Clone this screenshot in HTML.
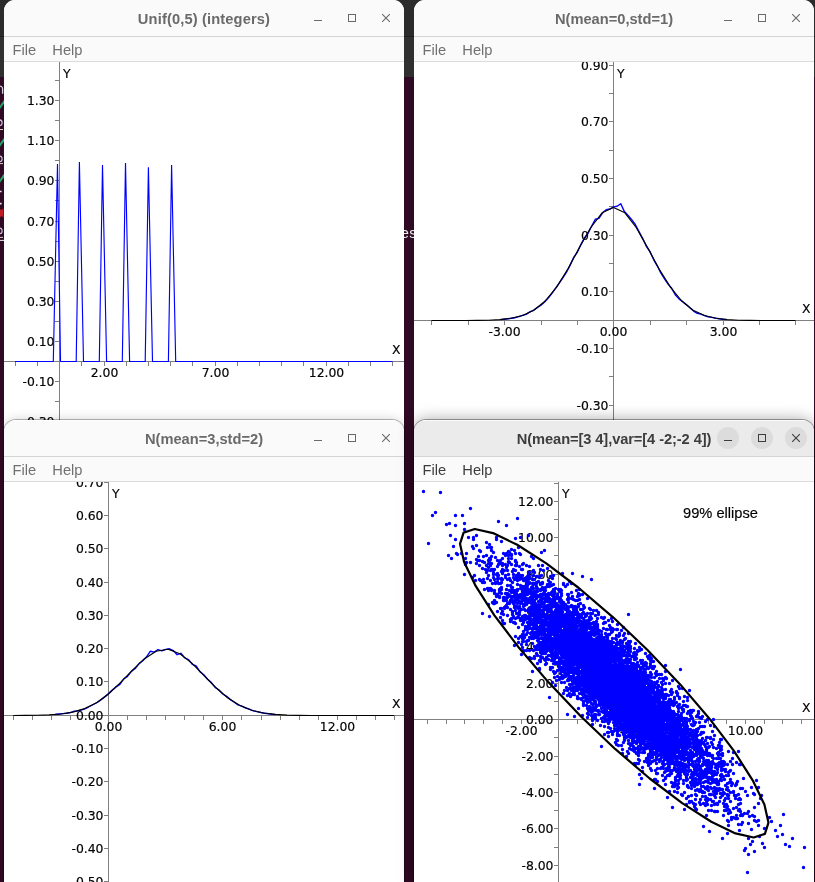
<!DOCTYPE html>
<html lang="en"><head><meta charset="utf-8"><title>Distributions</title>
<style>
html,body{margin:0;padding:0}
body{width:815px;height:882px;overflow:hidden;background:#300a24;position:relative;font-family:"Liberation Sans", sans-serif}
.bgtop{position:absolute;left:0;top:0;width:815px;height:77px;background:#303030}
.bgtop i{position:absolute;left:0;top:0;width:100%;height:36px;background:#2b2b2b;border-bottom:1px solid #1e1e1e}
.win{position:absolute;width:400px;background:#fff;border-radius:11px 11px 0 0;overflow:hidden}
.win.low,.win.act{border-radius:12px 12px 0 0}
.win.low{box-shadow:0 0 0 1px rgba(0,0,0,.27),0 0 12px rgba(0,0,0,.19)}
.win.act{box-shadow:0 0 0 1px rgba(0,0,0,.34),0 0 16px rgba(0,0,0,.36)}
.tb{display:block;border-bottom:1px solid #d4d4d4}
.mb{position:relative;height:24px;background:#fafafa;border-bottom:1px solid #dcdcdc;font-size:14.67px;line-height:24px}
.mb span{position:absolute;top:1px}
.pl{display:block;background:#fff}
.frag{position:absolute;left:0;top:0;display:block}
.es{position:absolute;left:400.6px;top:225.2px;width:20px;height:18px;font:14.5px/18px "Liberation Mono",monospace;color:#eee;letter-spacing:-.7px}
svg text{white-space:pre}
.pl text{stroke:#000;stroke-width:.16px}
</style></head><body>
<div class="bgtop"><i></i></div>
<svg class="frag" width="4" height="260" viewBox="0 0 4 260">
<g fill="none">
<path d="M-2 86.3q4.6-.9 4.6 2.6v4.8" stroke="#cfcfe4" stroke-width="1.3"/>
<path d="M-1 108.6L4.5 101" stroke="#26a269" stroke-width="2.1"/>
<circle cx="-.8" cy="122.8" r="2.9" stroke="#c4c4dc" stroke-width="1.2"/>
<path d="M0 129.5h3" stroke="#d8d0c8" stroke-width="1"/>
<path d="M-1 146.4L4.5 138.8" stroke="#26a269" stroke-width="2.1"/>
<circle cx="-.8" cy="158.9" r="2.9" stroke="#c4c4dc" stroke-width="1.2"/>
<path d="M0 163.6h3" stroke="#d8d0c8" stroke-width="1"/>
<path d="M-1 182.3L4.5 174.7" stroke="#26a269" stroke-width="2.1"/>
<path d="M0 191.5h1.6M0 203.6h1.6" stroke="#e6e6e6" stroke-width="1.6"/>
<path d="M-1 208.5l2.5 1.5l2-1.8v9.5l-2-1.6l-2.5 1.8z" fill="#c01c28" stroke="none"/>
<circle cx="-.8" cy="230.9" r="2.9" stroke="#c4c4dc" stroke-width="1.2"/>
<path d="M0 237.4h3" stroke="#d8d0c8" stroke-width="1"/>
<path d="M0 240.4h4" stroke="#e8e8e8" stroke-width="1"/>
</g></svg>
<div class="es">es</div>
<div class="win " style="left:4px;top:0px;height:470px">
<svg class="tb" width="400" height="36" style="background:#fafafa;box-shadow:inset 0 1px 0 rgba(255,255,255,0)" font-family='"Liberation Sans", sans-serif' font-size="14.67"><text x="200" y="24" text-anchor="middle" font-weight="bold" fill="#6a6a6a" letter-spacing="0.14">Unif(0,5) (integers)</text><g transform="translate(314,18)" fill="#6a6a6a" color="#6a6a6a" shape-rendering="crispEdges"><rect x="-4" y="2" width="8" height="1"/></g><g transform="translate(348,18)" fill="#6a6a6a" color="#6a6a6a" shape-rendering="crispEdges"><path d="M-4 -4h8v8h-8z M-3 -3v6h6v-6z" fill-rule="evenodd"/></g><g transform="translate(382,18)" fill="#6a6a6a" color="#6a6a6a" shape-rendering="auto"><path d="M-3.8 -3.8L3.8 3.8M3.8 -3.8L-3.8 3.8" fill="none" stroke-width="1.1" stroke="currentColor"/></g></svg>
<div class="mb" style="color:#707070"><span style="left:8.5px">File</span><span style="left:48.3px">Help</span></div>
<svg class="pl" width="400" height="408" font-family='"DejaVu Sans", "Liberation Sans", sans-serif' font-size="12.4" stroke="#000" stroke-width="0"><rect x="0" y="299" width="400" height="1" fill="#808080"/><rect x="55" y="0" width="1" height="400" fill="#808080"/><rect x="11" y="300" width="1" height="4" fill="#808080"/><rect x="33" y="300" width="1" height="4" fill="#808080"/><rect x="77" y="300" width="1" height="4" fill="#808080"/><rect x="100" y="300" width="1" height="4" fill="#808080"/><rect x="122" y="300" width="1" height="4" fill="#808080"/><rect x="144" y="300" width="1" height="4" fill="#808080"/><rect x="166" y="300" width="1" height="4" fill="#808080"/><rect x="188" y="300" width="1" height="4" fill="#808080"/><rect x="211" y="300" width="1" height="4" fill="#808080"/><rect x="233" y="300" width="1" height="4" fill="#808080"/><rect x="255" y="300" width="1" height="4" fill="#808080"/><rect x="277" y="300" width="1" height="4" fill="#808080"/><rect x="299" y="300" width="1" height="4" fill="#808080"/><rect x="322" y="300" width="1" height="4" fill="#808080"/><rect x="344" y="300" width="1" height="4" fill="#808080"/><rect x="366" y="300" width="1" height="4" fill="#808080"/><rect x="388" y="300" width="1" height="4" fill="#808080"/><rect x="51" y="419" width="4" height="1" fill="#808080"/><rect x="51" y="399" width="4" height="1" fill="#808080"/><rect x="51" y="379" width="4" height="1" fill="#808080"/><rect x="51" y="359" width="4" height="1" fill="#808080"/><rect x="51" y="339" width="4" height="1" fill="#808080"/><rect x="51" y="319" width="4" height="1" fill="#808080"/><rect x="51" y="279" width="4" height="1" fill="#808080"/><rect x="51" y="259" width="4" height="1" fill="#808080"/><rect x="51" y="239" width="4" height="1" fill="#808080"/><rect x="51" y="219" width="4" height="1" fill="#808080"/><rect x="51" y="199" width="4" height="1" fill="#808080"/><rect x="51" y="179" width="4" height="1" fill="#808080"/><rect x="51" y="159" width="4" height="1" fill="#808080"/><rect x="51" y="138" width="4" height="1" fill="#808080"/><rect x="51" y="118" width="4" height="1" fill="#808080"/><rect x="51" y="98" width="4" height="1" fill="#808080"/><rect x="51" y="78" width="4" height="1" fill="#808080"/><rect x="51" y="58" width="4" height="1" fill="#808080"/><rect x="51" y="38" width="4" height="1" fill="#808080"/><rect x="51" y="18" width="4" height="1" fill="#808080"/><rect x="51" y="-2" width="4" height="1" fill="#808080"/><text x="100.5" y="315" text-anchor="middle">2.00</text><text x="211.5" y="315" text-anchor="middle">7.00</text><text x="322.5" y="315" text-anchor="middle">12.00</text><text x="50.5" y="43" text-anchor="end">1.30</text><text x="50.5" y="83" text-anchor="end">1.10</text><text x="50.5" y="123" text-anchor="end">0.90</text><text x="50.5" y="164" text-anchor="end">0.70</text><text x="50.5" y="204" text-anchor="end">0.50</text><text x="50.5" y="244" text-anchor="end">0.30</text><text x="50.5" y="284" text-anchor="end">0.10</text><text x="50.5" y="324" text-anchor="end">-0.10</text><text x="50.5" y="364" text-anchor="end">-0.30</text><text x="59" y="16">Y</text><text x="396.5" y="292" text-anchor="end">X</text><polyline points="11,299.5 49.3,299.5 53.5,102 56.5,299.5 72.2,299.5 75.4,100 79.5,299.5 95.3,299.5 98.5,103 102.6,299.5 118.3,299.5 121.5,101 125.6,299.5 141.2,299.5 144.4,105.3 148.5,299.5 164.4,299.5 167.6,103 171.7,299.5 388.5,299.5" fill="none" stroke="#0000ff" stroke-width="1.15" stroke-linejoin="miter"/></svg>
</div>
<div class="win " style="left:414px;top:0px;height:470px">
<svg class="tb" width="400" height="36" style="background:#fafafa;box-shadow:inset 0 1px 0 rgba(255,255,255,0)" font-family='"Liberation Sans", sans-serif' font-size="14.67"><text x="200" y="24" text-anchor="middle" font-weight="bold" fill="#6a6a6a" letter-spacing="0">N(mean=0,std=1)</text><g transform="translate(314,18)" fill="#6a6a6a" color="#6a6a6a" shape-rendering="crispEdges"><rect x="-4" y="2" width="8" height="1"/></g><g transform="translate(348,18)" fill="#6a6a6a" color="#6a6a6a" shape-rendering="crispEdges"><path d="M-4 -4h8v8h-8z M-3 -3v6h6v-6z" fill-rule="evenodd"/></g><g transform="translate(382,18)" fill="#6a6a6a" color="#6a6a6a" shape-rendering="auto"><path d="M-3.8 -3.8L3.8 3.8M3.8 -3.8L-3.8 3.8" fill="none" stroke-width="1.1" stroke="currentColor"/></g></svg>
<div class="mb" style="color:#707070"><span style="left:8.5px">File</span><span style="left:48.3px">Help</span></div>
<svg class="pl" width="400" height="408" font-family='"DejaVu Sans", "Liberation Sans", sans-serif' font-size="12.4" stroke="#000" stroke-width="0"><rect x="0" y="258" width="400" height="1" fill="#808080"/><rect x="199" y="0" width="1" height="400" fill="#808080"/><rect x="17" y="259" width="1" height="4" fill="#808080"/><rect x="54" y="259" width="1" height="4" fill="#808080"/><rect x="90" y="259" width="1" height="4" fill="#808080"/><rect x="127" y="259" width="1" height="4" fill="#808080"/><rect x="163" y="259" width="1" height="4" fill="#808080"/><rect x="236" y="259" width="1" height="4" fill="#808080"/><rect x="272" y="259" width="1" height="4" fill="#808080"/><rect x="309" y="259" width="1" height="4" fill="#808080"/><rect x="345" y="259" width="1" height="4" fill="#808080"/><rect x="381" y="259" width="1" height="4" fill="#808080"/><rect x="195" y="428" width="4" height="1" fill="#808080"/><rect x="195" y="399" width="4" height="1" fill="#808080"/><rect x="195" y="371" width="4" height="1" fill="#808080"/><rect x="195" y="343" width="4" height="1" fill="#808080"/><rect x="195" y="314" width="4" height="1" fill="#808080"/><rect x="195" y="286" width="4" height="1" fill="#808080"/><rect x="195" y="229" width="4" height="1" fill="#808080"/><rect x="195" y="201" width="4" height="1" fill="#808080"/><rect x="195" y="173" width="4" height="1" fill="#808080"/><rect x="195" y="144" width="4" height="1" fill="#808080"/><rect x="195" y="116" width="4" height="1" fill="#808080"/><rect x="195" y="88" width="4" height="1" fill="#808080"/><rect x="195" y="59" width="4" height="1" fill="#808080"/><rect x="195" y="31" width="4" height="1" fill="#808080"/><rect x="195" y="3" width="4" height="1" fill="#808080"/><rect x="195" y="-26" width="4" height="1" fill="#808080"/><text x="90.5" y="274" text-anchor="middle">-3.00</text><text x="199.5" y="274" text-anchor="middle">0.00</text><text x="309.5" y="274" text-anchor="middle">3.00</text><text x="194.5" y="8" text-anchor="end">0.90</text><text x="194.5" y="64" text-anchor="end">0.70</text><text x="194.5" y="121" text-anchor="end">0.50</text><text x="194.5" y="178" text-anchor="end">0.30</text><text x="194.5" y="234" text-anchor="end">0.10</text><text x="194.5" y="291" text-anchor="end">-0.10</text><text x="194.5" y="348" text-anchor="end">-0.30</text><text x="203" y="16">Y</text><text x="396.5" y="251" text-anchor="end">X</text><polyline points="86.7,257.6 90.3,257.2 93.9,256.8 97.6,256.2 101.2,255.7 104.9,254.6 108.5,253.4 112.1,252.3 115.8,249.9 119.4,248.3 123.1,245.6 126.7,243.5 130.3,240.3 134,236.3 137.6,231.9 141.3,226.7 144.9,221.6 148.5,216.4 152.2,210.7 155.8,203.9 159.5,195.7 163.1,190.7 166.7,182.9 170.4,176 174,171.5 177.7,164 181.3,157.3 184.9,156.4 188.6,150.8 192.2,147.8 195.9,147 199.5,144.9 203.1,144.3 206.8,141.7 210.4,149.6 214.1,153.4 217.7,157.7 221.3,162.5 225,169.6 228.6,176.3 232.3,184.3 235.9,189.4 239.5,197.3 243.2,203.8 246.8,210.9 250.5,216.8 254.1,222.1 257.7,226.3 261.4,233 265,236.9 268.7,239.8 272.3,242.6 275.9,245.8 279.6,249.1 283.2,251.3 286.9,252.1 290.5,253.7 294.1,254.9 297.8,255.4 301.4,256.1 305.1,256.8 308.7,257.2 312.3,257.5" fill="none" stroke="#0000ff" stroke-width="1.4" stroke-linejoin="round"/><polyline points="17.5,258.5 28.9,258.5 40.2,258.5 51.6,258.5 63,258.4 74.4,258.2 85.8,257.6 97.1,256.3 108.5,253.5 119.9,248.2 131.2,239 142.6,225.1 154,206.7 165.4,185.6 176.8,165.5 188.1,150.8 199.5,145.4 210.9,150.8 222.2,165.5 233.6,185.6 245,206.7 256.4,225.1 267.8,239 279.1,248.2 290.5,253.5 301.9,256.3 313.2,257.6 324.6,258.2 336,258.4 347.4,258.5 358.8,258.5 370.1,258.5 381.5,258.5" fill="none" stroke="#000" stroke-width="1.15" stroke-linejoin="round"/></svg>
</div>
<div class="win low" style="left:4px;top:420px;height:462px">
<svg class="tb" width="400" height="36" style="background:#fafafa;box-shadow:inset 0 1px 0 rgba(255,255,255,.75)" font-family='"Liberation Sans", sans-serif' font-size="14.67"><text x="200" y="24" text-anchor="middle" font-weight="bold" fill="#6a6a6a" letter-spacing="0">N(mean=3,std=2)</text><g transform="translate(314,18)" fill="#6a6a6a" color="#6a6a6a" shape-rendering="crispEdges"><rect x="-4" y="2" width="8" height="1"/></g><g transform="translate(348,18)" fill="#6a6a6a" color="#6a6a6a" shape-rendering="crispEdges"><path d="M-4 -4h8v8h-8z M-3 -3v6h6v-6z" fill-rule="evenodd"/></g><g transform="translate(382,18)" fill="#6a6a6a" color="#6a6a6a" shape-rendering="auto"><path d="M-3.8 -3.8L3.8 3.8M3.8 -3.8L-3.8 3.8" fill="none" stroke-width="1.1" stroke="currentColor"/></g></svg>
<div class="mb" style="color:#707070"><span style="left:8.5px">File</span><span style="left:48.3px">Help</span></div>
<svg class="pl" width="400" height="400" font-family='"DejaVu Sans", "Liberation Sans", sans-serif' font-size="12.4" stroke="#000" stroke-width="0"><rect x="0" y="233" width="400" height="1" fill="#808080"/><rect x="104" y="0" width="1" height="400" fill="#808080"/><rect x="9" y="234" width="1" height="4" fill="#808080"/><rect x="28" y="234" width="1" height="4" fill="#808080"/><rect x="47" y="234" width="1" height="4" fill="#808080"/><rect x="66" y="234" width="1" height="4" fill="#808080"/><rect x="85" y="234" width="1" height="4" fill="#808080"/><rect x="123" y="234" width="1" height="4" fill="#808080"/><rect x="142" y="234" width="1" height="4" fill="#808080"/><rect x="161" y="234" width="1" height="4" fill="#808080"/><rect x="180" y="234" width="1" height="4" fill="#808080"/><rect x="199" y="234" width="1" height="4" fill="#808080"/><rect x="218" y="234" width="1" height="4" fill="#808080"/><rect x="237" y="234" width="1" height="4" fill="#808080"/><rect x="257" y="234" width="1" height="4" fill="#808080"/><rect x="276" y="234" width="1" height="4" fill="#808080"/><rect x="295" y="234" width="1" height="4" fill="#808080"/><rect x="314" y="234" width="1" height="4" fill="#808080"/><rect x="333" y="234" width="1" height="4" fill="#808080"/><rect x="352" y="234" width="1" height="4" fill="#808080"/><rect x="371" y="234" width="1" height="4" fill="#808080"/><rect x="390" y="234" width="1" height="4" fill="#808080"/><rect x="100" y="432" width="4" height="1" fill="#808080"/><rect x="100" y="399" width="4" height="1" fill="#808080"/><rect x="100" y="366" width="4" height="1" fill="#808080"/><rect x="100" y="333" width="4" height="1" fill="#808080"/><rect x="100" y="299" width="4" height="1" fill="#808080"/><rect x="100" y="266" width="4" height="1" fill="#808080"/><rect x="100" y="199" width="4" height="1" fill="#808080"/><rect x="100" y="166" width="4" height="1" fill="#808080"/><rect x="100" y="133" width="4" height="1" fill="#808080"/><rect x="100" y="100" width="4" height="1" fill="#808080"/><rect x="100" y="66" width="4" height="1" fill="#808080"/><rect x="100" y="33" width="4" height="1" fill="#808080"/><rect x="100" y="0" width="4" height="1" fill="#808080"/><rect x="100" y="-33" width="4" height="1" fill="#808080"/><text x="104.5" y="249" text-anchor="middle">0.00</text><text x="218.5" y="249" text-anchor="middle">6.00</text><text x="333.5" y="249" text-anchor="middle">12.00</text><text x="99.5" y="5" text-anchor="end">0.70</text><text x="99.5" y="38" text-anchor="end">0.60</text><text x="99.5" y="71" text-anchor="end">0.50</text><text x="99.5" y="105" text-anchor="end">0.40</text><text x="99.5" y="138" text-anchor="end">0.30</text><text x="99.5" y="171" text-anchor="end">0.20</text><text x="99.5" y="204" text-anchor="end">0.10</text><text x="99.5" y="238" text-anchor="end">0.00</text><text x="99.5" y="271" text-anchor="end">-0.10</text><text x="99.5" y="304" text-anchor="end">-0.20</text><text x="99.5" y="338" text-anchor="end">-0.30</text><text x="99.5" y="371" text-anchor="end">-0.40</text><text x="99.5" y="404" text-anchor="end">-0.50</text><text x="108" y="16">Y</text><text x="396.5" y="226" text-anchor="end">X</text><polyline points="51.2,232.5 55,232 58.8,231.6 62.6,231.3 66.4,230.6 70.2,229.2 74,228.9 77.8,227.8 81.6,226.6 85.5,224.5 89.3,222.5 93.1,220.5 96.9,217.9 100.7,214.9 104.5,211.6 108.3,208 112.1,204.9 115.9,202.4 119.7,196.8 123.5,194.3 127.4,189.4 131.2,186.5 135,181.6 138.8,178.8 142.6,174.8 146.4,169.2 150.2,170.1 154,167.7 157.8,168.8 161.7,167.4 165.5,166.8 169.3,168.6 173.1,172.7 176.9,171.3 180.7,175.9 184.5,177.6 188.3,182.3 192.1,183.8 195.9,189.6 199.8,192.7 203.6,197.3 207.4,200.6 211.2,205.4 215,208 218.8,212 222.6,214.4 226.4,217.6 230.2,220.3 234,222.9 237.8,224.2 241.7,226 245.5,227.1 249.3,228.9 253.1,229.6 256.9,230.5 260.7,231.2 264.5,231.7 268.3,232.2 272.1,232.6" fill="none" stroke="#0000ff" stroke-width="1.4" stroke-linejoin="round"/><polyline points="9.2,233.5 21.2,233.4 33.1,233.3 45,232.9 56.9,232 68.8,230.1 80.7,226.6 92.6,220.7 104.5,212 116.4,200.7 128.3,188.3 140.2,176.9 152.1,169.2 164,167.3 175.9,171.7 187.8,181.1 199.8,193.3 211.7,205.5 223.6,215.8 235.5,223.3 247.4,228.2 259.3,231 271.2,232.4 283.1,233.1 295,233.4 306.9,233.5 318.8,233.5 330.7,233.5 342.6,233.5 354.5,233.5 366.4,233.5 378.3,233.5 390.2,233.5" fill="none" stroke="#000" stroke-width="1.15" stroke-linejoin="round"/></svg>
</div>
<div class="win act" style="left:414px;top:420px;height:462px">
<svg class="tb" width="400" height="36" style="background:#ebebeb;box-shadow:inset 0 1px 0 rgba(255,255,255,.75)" font-family='"Liberation Sans", sans-serif' font-size="14.67"><text x="297.3" y="24" text-anchor="end" font-weight="bold" fill="#3d3d3d" letter-spacing="-0.09">N(mean=[3 4],var=[4 -2;-2 4])</text><circle cx="314" cy="18" r="11" fill="#dcdcdc"/><g transform="translate(314,18)" fill="#3d3d3d" color="#3d3d3d" shape-rendering="crispEdges"><rect x="-4" y="2" width="8" height="1"/></g><circle cx="348" cy="18" r="11" fill="#dcdcdc"/><g transform="translate(348,18)" fill="#3d3d3d" color="#3d3d3d" shape-rendering="crispEdges"><path d="M-4 -4h8v8h-8z M-3 -3v6h6v-6z" fill-rule="evenodd"/></g><circle cx="382" cy="18" r="11" fill="#dcdcdc"/><g transform="translate(382,18)" fill="#3d3d3d" color="#3d3d3d" shape-rendering="auto"><path d="M-3.8 -3.8L3.8 3.8M3.8 -3.8L-3.8 3.8" fill="none" stroke-width="1.1" stroke="currentColor"/></g></svg>
<div class="mb" style="color:#3d3d3d"><span style="left:8.5px">File</span><span style="left:48.3px">Help</span></div>
<svg class="pl" width="400" height="400" font-family='"DejaVu Sans", "Liberation Sans", sans-serif' font-size="12.4" stroke="#000" stroke-width="0"><rect x="0" y="237" width="400" height="1" fill="#808080"/><rect x="144" y="0" width="1" height="400" fill="#808080"/><rect x="13" y="238" width="1" height="4" fill="#808080"/><rect x="32" y="238" width="1" height="4" fill="#808080"/><rect x="50" y="238" width="1" height="4" fill="#808080"/><rect x="69" y="238" width="1" height="4" fill="#808080"/><rect x="88" y="238" width="1" height="4" fill="#808080"/><rect x="107" y="238" width="1" height="4" fill="#808080"/><rect x="125" y="238" width="1" height="4" fill="#808080"/><rect x="163" y="238" width="1" height="4" fill="#808080"/><rect x="181" y="238" width="1" height="4" fill="#808080"/><rect x="200" y="238" width="1" height="4" fill="#808080"/><rect x="219" y="238" width="1" height="4" fill="#808080"/><rect x="237" y="238" width="1" height="4" fill="#808080"/><rect x="256" y="238" width="1" height="4" fill="#808080"/><rect x="275" y="238" width="1" height="4" fill="#808080"/><rect x="294" y="238" width="1" height="4" fill="#808080"/><rect x="312" y="238" width="1" height="4" fill="#808080"/><rect x="331" y="238" width="1" height="4" fill="#808080"/><rect x="350" y="238" width="1" height="4" fill="#808080"/><rect x="368" y="238" width="1" height="4" fill="#808080"/><rect x="387" y="238" width="1" height="4" fill="#808080"/><rect x="140" y="401" width="4" height="1" fill="#808080"/><rect x="140" y="383" width="4" height="1" fill="#808080"/><rect x="140" y="365" width="4" height="1" fill="#808080"/><rect x="140" y="346" width="4" height="1" fill="#808080"/><rect x="140" y="328" width="4" height="1" fill="#808080"/><rect x="140" y="310" width="4" height="1" fill="#808080"/><rect x="140" y="292" width="4" height="1" fill="#808080"/><rect x="140" y="274" width="4" height="1" fill="#808080"/><rect x="140" y="255" width="4" height="1" fill="#808080"/><rect x="140" y="219" width="4" height="1" fill="#808080"/><rect x="140" y="201" width="4" height="1" fill="#808080"/><rect x="140" y="183" width="4" height="1" fill="#808080"/><rect x="140" y="164" width="4" height="1" fill="#808080"/><rect x="140" y="146" width="4" height="1" fill="#808080"/><rect x="140" y="128" width="4" height="1" fill="#808080"/><rect x="140" y="110" width="4" height="1" fill="#808080"/><rect x="140" y="92" width="4" height="1" fill="#808080"/><rect x="140" y="73" width="4" height="1" fill="#808080"/><rect x="140" y="55" width="4" height="1" fill="#808080"/><rect x="140" y="37" width="4" height="1" fill="#808080"/><rect x="140" y="19" width="4" height="1" fill="#808080"/><rect x="140" y="1" width="4" height="1" fill="#808080"/><rect x="140" y="-18" width="4" height="1" fill="#808080"/><text x="107.5" y="253" text-anchor="middle">-2.00</text><text x="219.5" y="253" text-anchor="middle">4.00</text><text x="331.5" y="253" text-anchor="middle">10.00</text><text x="139.5" y="24" text-anchor="end">12.00</text><text x="139.5" y="60" text-anchor="end">10.00</text><text x="139.5" y="97" text-anchor="end">8.00</text><text x="139.5" y="133" text-anchor="end">6.00</text><text x="139.5" y="169" text-anchor="end">4.00</text><text x="139.5" y="206" text-anchor="end">2.00</text><text x="139.5" y="242" text-anchor="end">0.00</text><text x="139.5" y="279" text-anchor="end">-2.00</text><text x="139.5" y="315" text-anchor="end">-4.00</text><text x="139.5" y="351" text-anchor="end">-6.00</text><text x="139.5" y="388" text-anchor="end">-8.00</text><text x="148" y="16">Y</text><text x="396.5" y="230" text-anchor="end">X</text><text x="269" y="35.700000000000045" font-family='"Liberation Sans", sans-serif' font-size="14.67">99% ellipse</text><path d="M153.5 102.5h0M243.5 286.5h0M154.5 158.5h0M206.5 168.5h0M189.5 204.5h0M189.5 136.5h0M134.5 127.5h0M233.5 233.5h0M228.5 210.5h0M108.5 93.5h0M312.5 328.5h0M257.5 242.5h0M149.5 174.5h0M269.5 223.5h0M183.5 170.5h0M178.5 216.5h0M254.5 227.5h0M150.5 123.5h0M231.5 228.5h0M278.5 265.5h0M266.5 269.5h0M175.5 195.5h0M241.5 251.5h0M117.5 119.5h0M198.5 186.5h0M222.5 224.5h0M122.5 141.5h0M208.5 184.5h0M295.5 281.5h0M241.5 238.5h0M242.5 243.5h0M159.5 143.5h0M153.5 124.5h0M139.5 118.5h0M221.5 234.5h0M247.5 230.5h0M158.5 175.5h0M146.5 129.5h0M224.5 203.5h0M208.5 224.5h0M204.5 183.5h0M252.5 277.5h0M223.5 168.5h0M198.5 196.5h0M151.5 136.5h0M213.5 201.5h0M267.5 271.5h0M228.5 178.5h0M179.5 228.5h0M229.5 216.5h0M186.5 243.5h0M218.5 236.5h0M226.5 229.5h0M251.5 212.5h0M140.5 180.5h0M208.5 223.5h0M105.5 132.5h0M233.5 194.5h0M158.5 114.5h0M202.5 191.5h0M219.5 230.5h0M170.5 188.5h0M191.5 219.5h0M128.5 105.5h0M174.5 139.5h0M227.5 243.5h0M154.5 128.5h0M235.5 232.5h0M106.5 154.5h0M160.5 148.5h0M141.5 148.5h0M198.5 203.5h0M228.5 227.5h0M142.5 150.5h0M186.5 196.5h0M283.5 283.5h0M166.5 202.5h0M148.5 170.5h0M233.5 207.5h0M172.5 206.5h0M163.5 166.5h0M111.5 106.5h0M252.5 232.5h0M162.5 180.5h0M201.5 199.5h0M156.5 136.5h0M277.5 256.5h0M225.5 252.5h0M255.5 246.5h0M200.5 189.5h0M194.5 254.5h0M242.5 249.5h0M245.5 260.5h0M215.5 217.5h0M194.5 170.5h0M154.5 170.5h0M148.5 154.5h0M229.5 208.5h0M189.5 186.5h0M78.5 120.5h0M189.5 196.5h0M254.5 255.5h0M194.5 178.5h0M113.5 99.5h0M188.5 200.5h0M230.5 250.5h0M208.5 213.5h0M168.5 189.5h0M304.5 284.5h0M302.5 292.5h0M191.5 199.5h0M228.5 255.5h0M226.5 214.5h0M229.5 251.5h0M287.5 261.5h0M229.5 255.5h0M190.5 220.5h0M171.5 163.5h0M155.5 163.5h0M190.5 208.5h0M267.5 251.5h0M220.5 211.5h0M208.5 198.5h0M207.5 220.5h0M191.5 213.5h0M239.5 217.5h0M152.5 134.5h0M92.5 107.5h0M186.5 171.5h0M144.5 139.5h0M273.5 292.5h0M192.5 193.5h0M175.5 200.5h0M121.5 123.5h0M216.5 213.5h0M177.5 160.5h0M284.5 231.5h0M248.5 239.5h0M182.5 139.5h0M212.5 231.5h0M52.5 71.5h0M160.5 171.5h0M250.5 277.5h0M215.5 266.5h0M230.5 189.5h0M200.5 197.5h0M118.5 138.5h0M134.5 128.5h0M213.5 210.5h0M277.5 303.5h0M83.5 96.5h0M249.5 216.5h0M213.5 248.5h0M258.5 239.5h0M153.5 159.5h0M166.5 180.5h0M222.5 183.5h0M127.5 168.5h0M130.5 146.5h0M150.5 160.5h0M187.5 206.5h0M222.5 217.5h0M196.5 212.5h0M191.5 140.5h0M178.5 149.5h0M246.5 269.5h0M210.5 185.5h0M189.5 203.5h0M250.5 246.5h0M255.5 272.5h0M286.5 244.5h0M219.5 223.5h0M197.5 198.5h0M211.5 218.5h0M206.5 212.5h0M270.5 272.5h0M211.5 220.5h0M227.5 239.5h0M205.5 192.5h0M253.5 287.5h0M95.5 96.5h0M227.5 213.5h0M231.5 247.5h0M158.5 124.5h0M297.5 323.5h0M197.5 189.5h0M191.5 193.5h0M145.5 146.5h0M239.5 251.5h0M219.5 204.5h0M176.5 164.5h0M208.5 216.5h0M243.5 227.5h0M263.5 261.5h0M213.5 209.5h0M156.5 146.5h0M181.5 163.5h0M94.5 73.5h0M169.5 157.5h0M253.5 223.5h0M238.5 210.5h0M164.5 226.5h0M183.5 182.5h0M271.5 291.5h0M212.5 217.5h0M239.5 255.5h0M219.5 221.5h0M155.5 177.5h0M278.5 281.5h0M134.5 140.5h0M154.5 125.5h0M167.5 189.5h0M166.5 160.5h0M173.5 171.5h0M165.5 174.5h0M248.5 253.5h0M204.5 202.5h0M204.5 233.5h0M130.5 109.5h0M181.5 133.5h0M259.5 252.5h0M165.5 113.5h0M263.5 258.5h0M133.5 162.5h0M198.5 233.5h0M170.5 144.5h0M206.5 215.5h0M169.5 140.5h0M183.5 191.5h0M269.5 301.5h0M188.5 174.5h0M286.5 322.5h0M174.5 180.5h0M211.5 197.5h0M190.5 169.5h0M274.5 305.5h0M233.5 255.5h0M253.5 268.5h0M241.5 224.5h0M324.5 328.5h0M246.5 235.5h0M208.5 246.5h0M150.5 166.5h0M161.5 147.5h0M218.5 201.5h0M267.5 235.5h0M263.5 251.5h0M151.5 153.5h0M221.5 233.5h0M196.5 224.5h0M148.5 139.5h0M210.5 242.5h0M213.5 214.5h0M317.5 335.5h0M153.5 144.5h0M197.5 205.5h0M93.5 115.5h0M167.5 157.5h0M235.5 243.5h0M211.5 186.5h0M168.5 197.5h0M181.5 181.5h0M226.5 194.5h0M219.5 231.5h0M253.5 272.5h0M243.5 242.5h0M166.5 177.5h0M265.5 280.5h0M261.5 266.5h0M118.5 124.5h0M222.5 246.5h0M231.5 253.5h0M248.5 251.5h0M248.5 208.5h0M147.5 121.5h0M189.5 184.5h0M80.5 110.5h0M184.5 200.5h0M281.5 326.5h0M228.5 242.5h0M236.5 250.5h0M176.5 172.5h0M132.5 165.5h0M160.5 132.5h0M201.5 213.5h0M159.5 160.5h0M172.5 164.5h0M245.5 272.5h0M107.5 127.5h0M127.5 140.5h0M176.5 173.5h0M210.5 180.5h0M207.5 180.5h0M157.5 101.5h0M224.5 196.5h0M188.5 199.5h0M200.5 237.5h0M156.5 134.5h0M196.5 229.5h0M187.5 236.5h0M152.5 182.5h0M167.5 211.5h0M170.5 174.5h0M273.5 265.5h0M113.5 140.5h0M106.5 121.5h0M177.5 185.5h0M154.5 177.5h0M187.5 171.5h0M225.5 248.5h0M138.5 96.5h0M138.5 176.5h0M170.5 208.5h0M109.5 169.5h0M227.5 211.5h0M221.5 213.5h0M174.5 154.5h0M125.5 95.5h0M307.5 257.5h0M213.5 236.5h0M222.5 222.5h0M203.5 205.5h0M219.5 181.5h0M238.5 247.5h0M173.5 226.5h0M164.5 172.5h0M224.5 249.5h0M215.5 192.5h0M146.5 176.5h0M152.5 156.5h0M256.5 263.5h0M226.5 239.5h0M301.5 300.5h0M163.5 184.5h0M161.5 163.5h0M224.5 218.5h0M281.5 260.5h0M242.5 219.5h0M210.5 235.5h0M281.5 312.5h0M161.5 164.5h0M137.5 137.5h0M167.5 158.5h0M179.5 189.5h0M200.5 238.5h0M247.5 258.5h0M225.5 217.5h0M263.5 293.5h0M147.5 170.5h0M316.5 279.5h0M162.5 156.5h0M242.5 277.5h0M145.5 160.5h0M216.5 220.5h0M195.5 211.5h0M238.5 215.5h0M250.5 227.5h0M188.5 191.5h0M193.5 201.5h0M190.5 234.5h0M132.5 135.5h0M157.5 169.5h0M96.5 139.5h0M205.5 196.5h0M314.5 313.5h0M235.5 241.5h0M150.5 162.5h0M159.5 169.5h0M239.5 261.5h0M188.5 165.5h0M131.5 105.5h0M146.5 150.5h0M163.5 130.5h0M127.5 170.5h0M242.5 228.5h0M208.5 200.5h0M115.5 134.5h0M166.5 179.5h0M133.5 152.5h0M137.5 141.5h0M137.5 110.5h0M289.5 290.5h0M190.5 179.5h0M247.5 212.5h0M246.5 243.5h0M167.5 194.5h0M236.5 218.5h0M235.5 221.5h0M219.5 205.5h0M300.5 322.5h0M237.5 192.5h0M181.5 196.5h0M230.5 236.5h0M290.5 291.5h0M260.5 242.5h0M177.5 174.5h0M132.5 181.5h0M149.5 157.5h0M170.5 163.5h0M208.5 231.5h0M257.5 230.5h0M70.5 100.5h0M199.5 200.5h0M207.5 263.5h0M238.5 256.5h0M154.5 167.5h0M180.5 174.5h0M143.5 160.5h0M210.5 231.5h0M133.5 104.5h0M159.5 127.5h0M157.5 173.5h0M268.5 257.5h0M319.5 326.5h0M198.5 204.5h0M134.5 141.5h0M205.5 203.5h0M147.5 165.5h0M205.5 242.5h0M123.5 164.5h0M184.5 178.5h0M197.5 202.5h0M224.5 229.5h0M213.5 180.5h0M282.5 247.5h0M207.5 206.5h0M101.5 115.5h0M237.5 258.5h0M192.5 179.5h0M157.5 175.5h0M277.5 277.5h0M154.5 145.5h0M191.5 217.5h0M183.5 145.5h0M296.5 243.5h0M158.5 206.5h0M212.5 213.5h0M119.5 140.5h0M274.5 273.5h0M153.5 138.5h0M259.5 234.5h0M278.5 236.5h0M260.5 266.5h0M304.5 281.5h0M141.5 140.5h0M216.5 225.5h0M207.5 207.5h0M220.5 224.5h0M238.5 275.5h0M202.5 210.5h0M155.5 162.5h0M196.5 194.5h0M261.5 297.5h0M124.5 156.5h0M210.5 198.5h0M145.5 156.5h0M257.5 256.5h0M121.5 112.5h0M193.5 173.5h0M172.5 216.5h0M199.5 214.5h0M266.5 293.5h0M126.5 170.5h0M308.5 313.5h0M139.5 140.5h0M102.5 108.5h0M112.5 136.5h0M216.5 205.5h0M222.5 233.5h0M105.5 71.5h0M207.5 237.5h0M199.5 174.5h0M240.5 233.5h0M175.5 186.5h0M233.5 259.5h0M237.5 221.5h0M148.5 133.5h0M255.5 293.5h0M218.5 204.5h0M246.5 229.5h0M270.5 259.5h0M142.5 160.5h0M187.5 205.5h0M146.5 171.5h0M146.5 158.5h0M218.5 210.5h0M211.5 224.5h0M258.5 278.5h0M284.5 258.5h0M206.5 193.5h0M157.5 158.5h0M312.5 307.5h0M193.5 196.5h0M151.5 154.5h0M173.5 184.5h0M206.5 223.5h0M269.5 247.5h0M212.5 233.5h0M212.5 164.5h0M204.5 213.5h0M179.5 190.5h0M194.5 213.5h0M206.5 184.5h0M222.5 232.5h0M95.5 113.5h0M173.5 192.5h0M170.5 201.5h0M154.5 132.5h0M197.5 186.5h0M149.5 144.5h0M166.5 167.5h0M172.5 199.5h0M176.5 198.5h0M169.5 173.5h0M235.5 278.5h0M202.5 219.5h0M229.5 204.5h0M181.5 152.5h0M169.5 141.5h0M247.5 239.5h0M187.5 178.5h0M110.5 110.5h0M87.5 89.5h0M220.5 203.5h0M171.5 155.5h0M188.5 206.5h0M168.5 177.5h0M181.5 178.5h0M200.5 183.5h0M136.5 138.5h0M210.5 188.5h0M265.5 236.5h0M223.5 249.5h0M103.5 121.5h0M135.5 129.5h0M112.5 152.5h0M188.5 187.5h0M235.5 253.5h0M210.5 224.5h0M109.5 113.5h0M200.5 206.5h0M222.5 261.5h0M165.5 189.5h0M318.5 276.5h0M159.5 175.5h0M285.5 235.5h0M331.5 309.5h0M129.5 142.5h0M195.5 172.5h0M213.5 246.5h0M101.5 118.5h0M224.5 234.5h0M204.5 226.5h0M162.5 196.5h0M174.5 142.5h0M173.5 174.5h0M181.5 189.5h0M122.5 149.5h0M272.5 288.5h0M146.5 142.5h0M193.5 164.5h0M184.5 149.5h0M189.5 170.5h0M201.5 209.5h0M158.5 165.5h0M170.5 207.5h0M283.5 293.5h0M243.5 265.5h0M201.5 170.5h0M242.5 251.5h0M166.5 157.5h0M217.5 206.5h0M111.5 144.5h0M141.5 143.5h0M156.5 157.5h0M262.5 265.5h0M227.5 197.5h0M246.5 210.5h0M184.5 232.5h0M217.5 221.5h0M220.5 223.5h0M213.5 204.5h0M156.5 152.5h0M169.5 151.5h0M257.5 267.5h0M273.5 272.5h0M215.5 242.5h0M97.5 136.5h0M292.5 269.5h0M207.5 226.5h0M200.5 193.5h0M174.5 228.5h0M178.5 185.5h0M290.5 281.5h0M130.5 162.5h0M198.5 183.5h0M229.5 202.5h0M293.5 237.5h0M76.5 77.5h0M251.5 244.5h0M282.5 288.5h0M263.5 264.5h0M231.5 207.5h0M108.5 156.5h0M112.5 168.5h0M143.5 152.5h0M120.5 135.5h0M163.5 183.5h0M210.5 193.5h0M231.5 240.5h0M268.5 313.5h0M211.5 210.5h0M106.5 103.5h0M280.5 261.5h0M197.5 190.5h0M283.5 234.5h0M175.5 178.5h0M201.5 229.5h0M187.5 198.5h0M194.5 202.5h0M262.5 267.5h0M164.5 168.5h0M219.5 197.5h0M231.5 190.5h0M156.5 203.5h0M79.5 95.5h0M242.5 193.5h0M126.5 119.5h0M163.5 189.5h0M221.5 222.5h0M249.5 237.5h0M230.5 253.5h0M232.5 227.5h0M209.5 153.5h0M253.5 270.5h0M185.5 186.5h0M256.5 257.5h0M88.5 83.5h0M144.5 158.5h0M150.5 190.5h0M186.5 213.5h0M72.5 83.5h0M238.5 244.5h0M257.5 243.5h0M216.5 263.5h0M195.5 152.5h0M284.5 263.5h0M172.5 171.5h0M191.5 201.5h0M202.5 195.5h0M167.5 216.5h0M182.5 215.5h0M277.5 235.5h0M283.5 263.5h0M287.5 258.5h0M227.5 265.5h0M237.5 230.5h0M239.5 206.5h0M291.5 287.5h0M191.5 163.5h0M165.5 170.5h0M192.5 212.5h0M126.5 102.5h0M183.5 192.5h0M191.5 202.5h0M154.5 140.5h0M162.5 178.5h0M241.5 229.5h0M178.5 198.5h0M203.5 204.5h0M256.5 249.5h0M149.5 187.5h0M127.5 155.5h0M199.5 196.5h0M102.5 112.5h0M237.5 229.5h0M177.5 190.5h0M177.5 180.5h0M157.5 154.5h0M193.5 188.5h0M230.5 267.5h0M207.5 246.5h0M224.5 258.5h0M193.5 169.5h0M284.5 278.5h0M261.5 268.5h0M221.5 177.5h0M52.5 80.5h0M215.5 191.5h0M203.5 191.5h0M142.5 154.5h0M307.5 267.5h0M198.5 139.5h0M234.5 217.5h0M255.5 223.5h0M140.5 109.5h0M212.5 201.5h0M257.5 264.5h0M173.5 193.5h0M245.5 222.5h0M217.5 181.5h0M254.5 251.5h0M308.5 281.5h0M159.5 129.5h0M207.5 233.5h0M165.5 171.5h0M184.5 132.5h0M159.5 205.5h0M203.5 169.5h0M166.5 168.5h0M227.5 206.5h0M230.5 252.5h0M234.5 243.5h0M221.5 249.5h0M259.5 263.5h0M133.5 128.5h0M180.5 208.5h0M234.5 186.5h0M243.5 211.5h0M136.5 100.5h0M299.5 293.5h0M161.5 148.5h0M225.5 203.5h0M230.5 246.5h0M250.5 261.5h0M172.5 159.5h0M190.5 155.5h0M194.5 245.5h0M227.5 234.5h0M254.5 239.5h0M196.5 199.5h0M161.5 169.5h0M140.5 124.5h0M280.5 298.5h0M129.5 132.5h0M242.5 230.5h0M201.5 228.5h0M244.5 234.5h0M233.5 265.5h0M200.5 195.5h0M206.5 235.5h0M105.5 97.5h0M195.5 210.5h0M137.5 171.5h0M196.5 189.5h0M270.5 257.5h0M196.5 216.5h0M243.5 269.5h0M216.5 164.5h0M214.5 228.5h0M165.5 194.5h0M77.5 65.5h0M151.5 177.5h0M190.5 184.5h0M215.5 202.5h0M204.5 198.5h0M184.5 204.5h0M252.5 245.5h0M238.5 227.5h0M179.5 182.5h0M234.5 256.5h0M172.5 200.5h0M175.5 211.5h0M279.5 255.5h0M173.5 173.5h0M119.5 132.5h0M208.5 212.5h0M263.5 310.5h0M188.5 193.5h0M202.5 190.5h0M194.5 186.5h0M199.5 208.5h0M275.5 259.5h0M307.5 294.5h0M230.5 219.5h0M174.5 217.5h0M287.5 304.5h0M219.5 193.5h0M197.5 211.5h0M214.5 151.5h0M184.5 186.5h0M205.5 222.5h0M181.5 192.5h0M215.5 230.5h0M202.5 209.5h0M236.5 222.5h0M183.5 180.5h0M193.5 189.5h0M230.5 197.5h0M202.5 207.5h0M217.5 196.5h0M251.5 270.5h0M117.5 176.5h0M192.5 186.5h0M273.5 266.5h0M151.5 133.5h0M303.5 322.5h0M226.5 217.5h0M172.5 184.5h0M209.5 251.5h0M151.5 183.5h0M209.5 233.5h0M273.5 247.5h0M113.5 147.5h0M186.5 180.5h0M239.5 211.5h0M280.5 291.5h0M233.5 263.5h0M194.5 162.5h0M264.5 287.5h0M193.5 193.5h0M212.5 228.5h0M147.5 143.5h0M246.5 277.5h0M239.5 184.5h0M157.5 186.5h0M155.5 129.5h0M203.5 237.5h0M248.5 224.5h0M161.5 199.5h0M209.5 172.5h0M205.5 253.5h0M193.5 202.5h0M106.5 106.5h0M236.5 233.5h0M198.5 228.5h0M237.5 238.5h0M152.5 172.5h0M88.5 97.5h0M148.5 126.5h0M193.5 239.5h0M306.5 307.5h0M314.5 327.5h0M210.5 222.5h0M123.5 129.5h0M160.5 207.5h0M216.5 231.5h0M223.5 222.5h0M270.5 268.5h0M166.5 144.5h0M74.5 106.5h0M165.5 147.5h0M124.5 159.5h0M310.5 318.5h0M178.5 204.5h0M125.5 130.5h0M233.5 231.5h0M221.5 282.5h0M205.5 201.5h0M219.5 202.5h0M245.5 261.5h0M178.5 152.5h0M234.5 227.5h0M235.5 261.5h0M204.5 232.5h0M235.5 254.5h0M233.5 228.5h0M183.5 194.5h0M199.5 187.5h0M223.5 240.5h0M169.5 175.5h0M253.5 265.5h0M262.5 263.5h0M86.5 108.5h0M193.5 200.5h0M168.5 156.5h0M148.5 188.5h0M202.5 213.5h0M192.5 191.5h0M228.5 230.5h0M196.5 237.5h0M216.5 223.5h0M190.5 175.5h0M276.5 273.5h0M79.5 70.5h0M296.5 280.5h0M182.5 161.5h0M262.5 258.5h0M82.5 55.5h0M170.5 189.5h0M232.5 255.5h0M217.5 199.5h0M245.5 259.5h0M163.5 149.5h0M167.5 177.5h0M160.5 174.5h0M245.5 208.5h0M252.5 196.5h0M187.5 201.5h0M180.5 194.5h0M210.5 199.5h0M160.5 144.5h0M227.5 167.5h0M176.5 210.5h0M199.5 147.5h0M168.5 174.5h0M278.5 273.5h0M165.5 173.5h0M236.5 207.5h0M280.5 260.5h0M233.5 243.5h0M215.5 188.5h0M251.5 253.5h0M143.5 112.5h0M136.5 140.5h0M189.5 189.5h0M189.5 202.5h0M310.5 282.5h0M293.5 280.5h0M203.5 194.5h0M197.5 230.5h0M217.5 216.5h0M118.5 146.5h0M270.5 273.5h0M164.5 184.5h0M242.5 216.5h0M123.5 145.5h0M272.5 270.5h0M226.5 237.5h0M293.5 307.5h0M227.5 180.5h0M105.5 130.5h0M166.5 154.5h0M124.5 149.5h0M285.5 276.5h0M167.5 170.5h0M181.5 143.5h0M245.5 216.5h0M203.5 225.5h0M236.5 214.5h0M173.5 177.5h0M100.5 97.5h0M146.5 117.5h0M92.5 85.5h0M268.5 263.5h0M241.5 253.5h0M187.5 175.5h0M240.5 224.5h0M219.5 250.5h0M217.5 249.5h0M227.5 227.5h0M258.5 233.5h0M200.5 208.5h0M94.5 80.5h0M266.5 264.5h0M239.5 222.5h0M77.5 68.5h0M221.5 197.5h0M188.5 156.5h0M66.5 69.5h0M231.5 249.5h0M254.5 230.5h0M252.5 259.5h0M272.5 260.5h0M302.5 266.5h0M217.5 213.5h0M202.5 220.5h0M166.5 169.5h0M232.5 222.5h0M197.5 179.5h0M142.5 139.5h0M257.5 266.5h0M236.5 238.5h0M51.5 76.5h0M97.5 114.5h0M179.5 200.5h0M136.5 127.5h0M259.5 267.5h0M210.5 209.5h0M226.5 233.5h0M246.5 251.5h0M241.5 297.5h0M201.5 173.5h0M229.5 237.5h0M220.5 208.5h0M238.5 246.5h0M227.5 232.5h0M257.5 291.5h0M231.5 226.5h0M185.5 168.5h0M204.5 211.5h0M140.5 146.5h0M243.5 192.5h0M257.5 300.5h0M181.5 159.5h0M99.5 134.5h0M183.5 211.5h0M159.5 191.5h0M199.5 203.5h0M180.5 161.5h0M214.5 196.5h0M134.5 164.5h0M286.5 275.5h0M185.5 194.5h0M232.5 223.5h0M247.5 234.5h0M182.5 205.5h0M235.5 214.5h0M191.5 186.5h0M181.5 175.5h0M188.5 192.5h0M227.5 225.5h0M148.5 125.5h0M159.5 150.5h0M164.5 157.5h0M149.5 195.5h0M183.5 188.5h0M212.5 206.5h0M236.5 275.5h0M165.5 161.5h0M265.5 243.5h0M283.5 270.5h0M292.5 270.5h0M206.5 217.5h0M188.5 172.5h0M253.5 235.5h0M169.5 193.5h0M264.5 298.5h0M254.5 229.5h0M153.5 165.5h0M259.5 245.5h0M186.5 193.5h0M187.5 194.5h0M194.5 168.5h0M186.5 207.5h0M228.5 229.5h0M246.5 246.5h0M258.5 234.5h0M193.5 178.5h0M261.5 264.5h0M181.5 158.5h0M208.5 179.5h0M158.5 130.5h0M284.5 246.5h0M221.5 212.5h0M195.5 226.5h0M185.5 210.5h0M261.5 241.5h0M187.5 169.5h0M206.5 242.5h0M324.5 342.5h0M196.5 197.5h0M176.5 168.5h0M157.5 148.5h0M273.5 218.5h0M215.5 200.5h0M141.5 190.5h0M143.5 180.5h0M209.5 203.5h0M144.5 162.5h0M305.5 319.5h0M201.5 188.5h0M206.5 185.5h0M110.5 114.5h0M115.5 145.5h0M183.5 189.5h0M203.5 203.5h0M144.5 138.5h0M277.5 306.5h0M209.5 247.5h0M268.5 273.5h0M267.5 262.5h0M189.5 197.5h0M322.5 336.5h0M197.5 225.5h0M97.5 119.5h0M94.5 76.5h0M206.5 203.5h0M254.5 244.5h0M201.5 216.5h0M306.5 280.5h0M210.5 168.5h0M233.5 234.5h0M248.5 236.5h0M157.5 147.5h0M222.5 219.5h0M234.5 213.5h0M260.5 261.5h0M280.5 253.5h0M269.5 241.5h0M160.5 172.5h0M246.5 238.5h0M246.5 272.5h0M203.5 209.5h0M251.5 234.5h0M250.5 237.5h0M277.5 253.5h0M209.5 208.5h0M223.5 235.5h0M215.5 214.5h0M205.5 210.5h0M184.5 161.5h0M173.5 201.5h0M140.5 153.5h0M183.5 205.5h0M252.5 226.5h0M238.5 233.5h0M251.5 233.5h0M180.5 216.5h0M277.5 272.5h0M155.5 206.5h0M238.5 248.5h0M232.5 218.5h0M152.5 180.5h0M244.5 240.5h0M213.5 199.5h0M219.5 217.5h0M245.5 220.5h0M235.5 185.5h0M248.5 234.5h0M189.5 158.5h0M194.5 197.5h0M224.5 230.5h0M151.5 174.5h0M200.5 205.5h0M198.5 192.5h0M195.5 224.5h0M123.5 106.5h0M319.5 270.5h0M216.5 184.5h0M237.5 227.5h0M146.5 157.5h0M127.5 149.5h0M217.5 194.5h0M176.5 200.5h0M233.5 241.5h0M150.5 164.5h0M166.5 142.5h0M265.5 215.5h0M250.5 252.5h0M207.5 198.5h0M210.5 225.5h0M151.5 176.5h0M282.5 260.5h0M252.5 272.5h0M249.5 272.5h0M228.5 270.5h0M176.5 158.5h0M246.5 212.5h0M226.5 226.5h0M246.5 286.5h0M207.5 166.5h0M159.5 147.5h0M130.5 157.5h0M242.5 225.5h0M160.5 156.5h0M250.5 226.5h0M162.5 207.5h0M155.5 194.5h0M267.5 238.5h0M268.5 227.5h0M147.5 160.5h0M190.5 200.5h0M236.5 239.5h0M169.5 163.5h0M171.5 193.5h0M187.5 208.5h0M223.5 254.5h0M238.5 259.5h0M182.5 170.5h0M297.5 288.5h0M227.5 222.5h0M132.5 117.5h0M85.5 80.5h0M217.5 207.5h0M232.5 230.5h0M249.5 286.5h0M213.5 244.5h0M121.5 111.5h0M187.5 190.5h0M241.5 235.5h0M102.5 83.5h0M155.5 167.5h0M257.5 212.5h0M203.5 208.5h0M192.5 162.5h0M199.5 209.5h0M298.5 319.5h0M178.5 183.5h0M153.5 161.5h0M226.5 204.5h0M216.5 224.5h0M216.5 248.5h0M290.5 262.5h0M175.5 224.5h0M154.5 112.5h0M196.5 214.5h0M212.5 196.5h0M251.5 254.5h0M247.5 244.5h0M166.5 165.5h0M258.5 250.5h0M192.5 195.5h0M239.5 264.5h0M214.5 209.5h0M238.5 186.5h0M203.5 188.5h0M251.5 236.5h0M208.5 221.5h0M144.5 144.5h0M201.5 181.5h0M181.5 166.5h0M237.5 202.5h0M203.5 189.5h0M262.5 220.5h0M277.5 319.5h0M169.5 166.5h0M315.5 300.5h0M133.5 103.5h0M204.5 216.5h0M129.5 120.5h0M290.5 272.5h0M133.5 129.5h0M171.5 204.5h0M200.5 187.5h0M120.5 114.5h0M314.5 343.5h0M207.5 181.5h0M278.5 295.5h0M140.5 195.5h0M130.5 127.5h0M234.5 194.5h0M202.5 222.5h0M135.5 163.5h0M118.5 128.5h0M164.5 169.5h0M229.5 207.5h0M219.5 244.5h0M160.5 169.5h0M180.5 189.5h0M226.5 235.5h0M253.5 263.5h0M210.5 208.5h0M160.5 146.5h0M229.5 220.5h0M189.5 214.5h0M181.5 205.5h0M296.5 273.5h0M194.5 182.5h0M154.5 139.5h0M209.5 216.5h0M210.5 216.5h0M137.5 151.5h0M261.5 246.5h0M293.5 285.5h0M148.5 196.5h0M171.5 145.5h0M181.5 215.5h0M256.5 275.5h0M162.5 185.5h0M163.5 167.5h0M172.5 173.5h0M205.5 224.5h0M214.5 212.5h0M194.5 194.5h0M266.5 261.5h0M312.5 322.5h0M173.5 172.5h0M258.5 252.5h0M209.5 224.5h0M172.5 143.5h0M185.5 185.5h0M191.5 224.5h0M124.5 135.5h0M173.5 210.5h0M257.5 220.5h0M124.5 134.5h0M231.5 187.5h0M286.5 301.5h0M179.5 165.5h0M158.5 155.5h0M68.5 79.5h0M206.5 187.5h0M127.5 112.5h0M235.5 227.5h0M277.5 295.5h0M215.5 247.5h0M170.5 153.5h0M246.5 225.5h0M177.5 179.5h0M158.5 131.5h0M192.5 161.5h0M208.5 220.5h0M190.5 178.5h0M211.5 247.5h0M322.5 301.5h0M216.5 251.5h0M227.5 255.5h0M172.5 165.5h0M267.5 272.5h0M251.5 189.5h0M250.5 257.5h0M162.5 163.5h0M223.5 205.5h0M66.5 98.5h0M211.5 156.5h0M151.5 167.5h0M150.5 151.5h0M288.5 293.5h0M141.5 106.5h0M200.5 188.5h0M227.5 231.5h0M242.5 264.5h0M130.5 110.5h0M162.5 170.5h0M234.5 240.5h0M252.5 247.5h0M188.5 173.5h0M184.5 163.5h0M148.5 151.5h0M213.5 227.5h0M291.5 282.5h0M205.5 236.5h0M167.5 163.5h0M150.5 167.5h0M166.5 164.5h0M116.5 118.5h0M277.5 302.5h0M169.5 199.5h0M300.5 329.5h0M210.5 214.5h0M266.5 287.5h0M207.5 222.5h0M250.5 264.5h0M193.5 216.5h0M179.5 185.5h0M218.5 226.5h0M229.5 245.5h0M265.5 248.5h0M199.5 223.5h0M175.5 202.5h0M203.5 160.5h0M206.5 227.5h0M192.5 177.5h0M219.5 238.5h0M222.5 231.5h0M140.5 115.5h0M193.5 237.5h0M214.5 199.5h0M194.5 169.5h0M222.5 266.5h0M208.5 173.5h0M207.5 235.5h0M158.5 144.5h0M158.5 159.5h0M114.5 140.5h0M230.5 215.5h0M200.5 194.5h0M255.5 226.5h0M217.5 225.5h0M111.5 133.5h0M203.5 222.5h0M95.5 120.5h0M156.5 155.5h0M255.5 292.5h0M197.5 220.5h0M269.5 251.5h0M148.5 142.5h0M101.5 88.5h0M164.5 161.5h0M261.5 270.5h0M255.5 255.5h0M183.5 203.5h0M184.5 208.5h0M172.5 209.5h0M211.5 200.5h0M297.5 284.5h0M196.5 187.5h0M279.5 262.5h0M154.5 137.5h0M165.5 185.5h0M202.5 236.5h0M170.5 190.5h0M216.5 169.5h0M165.5 181.5h0M259.5 301.5h0M137.5 122.5h0M297.5 280.5h0M201.5 197.5h0M183.5 216.5h0M187.5 199.5h0M241.5 250.5h0M230.5 245.5h0M185.5 164.5h0M227.5 181.5h0M140.5 130.5h0M300.5 292.5h0M153.5 163.5h0M212.5 205.5h0M245.5 235.5h0M165.5 201.5h0M201.5 205.5h0M160.5 209.5h0M243.5 291.5h0M202.5 225.5h0M104.5 126.5h0M293.5 261.5h0M296.5 305.5h0M161.5 180.5h0M163.5 190.5h0M139.5 121.5h0M187.5 179.5h0M275.5 257.5h0M224.5 251.5h0M77.5 81.5h0M265.5 271.5h0M224.5 217.5h0M243.5 245.5h0M215.5 193.5h0M208.5 215.5h0M215.5 195.5h0M199.5 210.5h0M150.5 148.5h0M248.5 262.5h0M214.5 229.5h0M175.5 199.5h0M203.5 195.5h0M132.5 136.5h0M230.5 202.5h0M195.5 184.5h0M88.5 141.5h0M265.5 275.5h0M189.5 198.5h0M192.5 210.5h0M186.5 187.5h0M174.5 169.5h0M131.5 160.5h0M151.5 194.5h0M311.5 303.5h0M261.5 263.5h0M296.5 312.5h0M181.5 160.5h0M102.5 109.5h0M118.5 147.5h0M205.5 211.5h0M208.5 234.5h0M214.5 227.5h0M180.5 212.5h0M236.5 243.5h0M167.5 133.5h0M186.5 173.5h0M211.5 178.5h0M111.5 120.5h0M133.5 168.5h0M215.5 234.5h0M223.5 217.5h0M225.5 215.5h0M246.5 236.5h0M196.5 201.5h0M202.5 262.5h0M139.5 133.5h0M198.5 185.5h0M163.5 133.5h0M163.5 188.5h0M271.5 253.5h0M305.5 265.5h0M175.5 185.5h0M255.5 229.5h0M225.5 226.5h0M318.5 282.5h0M218.5 250.5h0M95.5 70.5h0M205.5 206.5h0M195.5 176.5h0M166.5 156.5h0M204.5 214.5h0M211.5 199.5h0M184.5 184.5h0M264.5 294.5h0M190.5 252.5h0M212.5 234.5h0M260.5 268.5h0M159.5 132.5h0M275.5 252.5h0M201.5 179.5h0M271.5 284.5h0M274.5 275.5h0M230.5 225.5h0M150.5 208.5h0M215.5 218.5h0M209.5 231.5h0M121.5 135.5h0M184.5 188.5h0M159.5 174.5h0M288.5 256.5h0M286.5 291.5h0M152.5 179.5h0M154.5 196.5h0M136.5 134.5h0M197.5 233.5h0M296.5 290.5h0M154.5 120.5h0M244.5 254.5h0M201.5 189.5h0M150.5 181.5h0M178.5 191.5h0M179.5 148.5h0M228.5 221.5h0M196.5 208.5h0M245.5 279.5h0M203.5 147.5h0M99.5 114.5h0M165.5 138.5h0M221.5 218.5h0M136.5 118.5h0M110.5 154.5h0M228.5 261.5h0M226.5 212.5h0M197.5 148.5h0M201.5 198.5h0M181.5 171.5h0M179.5 184.5h0M192.5 178.5h0M209.5 196.5h0M187.5 207.5h0M160.5 168.5h0M159.5 145.5h0M300.5 313.5h0M155.5 136.5h0M250.5 275.5h0M256.5 247.5h0M179.5 150.5h0M300.5 306.5h0M294.5 288.5h0M163.5 208.5h0M139.5 138.5h0M240.5 227.5h0M205.5 179.5h0M212.5 161.5h0M169.5 152.5h0M170.5 173.5h0M220.5 200.5h0M240.5 254.5h0M85.5 108.5h0M72.5 90.5h0M257.5 244.5h0M167.5 150.5h0M226.5 247.5h0M214.5 200.5h0M271.5 258.5h0M253.5 242.5h0M214.5 172.5h0M228.5 251.5h0M150.5 189.5h0M118.5 131.5h0M179.5 234.5h0M189.5 209.5h0M203.5 184.5h0M167.5 135.5h0M231.5 234.5h0M107.5 120.5h0M172.5 181.5h0M254.5 280.5h0M131.5 159.5h0M251.5 195.5h0M224.5 225.5h0M109.5 124.5h0M261.5 244.5h0M194.5 223.5h0M225.5 228.5h0M201.5 234.5h0M211.5 198.5h0M264.5 263.5h0M289.5 260.5h0M118.5 97.5h0M165.5 159.5h0M199.5 188.5h0M87.5 96.5h0M270.5 282.5h0M229.5 231.5h0M225.5 201.5h0M195.5 187.5h0M153.5 149.5h0M191.5 176.5h0M197.5 216.5h0M235.5 249.5h0M201.5 183.5h0M187.5 177.5h0M190.5 189.5h0M267.5 270.5h0M199.5 235.5h0M170.5 166.5h0M145.5 131.5h0M177.5 186.5h0M148.5 163.5h0M166.5 195.5h0M240.5 234.5h0M211.5 216.5h0M220.5 225.5h0M308.5 271.5h0M140.5 149.5h0M208.5 242.5h0M184.5 199.5h0M211.5 207.5h0M218.5 193.5h0M198.5 174.5h0M230.5 229.5h0M101.5 83.5h0M226.5 208.5h0M256.5 217.5h0M149.5 159.5h0M143.5 162.5h0M300.5 298.5h0M150.5 163.5h0M182.5 184.5h0M144.5 182.5h0M172.5 170.5h0M169.5 167.5h0M109.5 81.5h0M324.5 322.5h0M170.5 160.5h0M227.5 215.5h0M262.5 279.5h0M225.5 249.5h0M272.5 250.5h0M244.5 245.5h0M192.5 215.5h0M258.5 238.5h0M124.5 119.5h0M247.5 246.5h0M217.5 217.5h0M126.5 143.5h0M262.5 277.5h0M171.5 165.5h0M231.5 236.5h0M123.5 94.5h0M198.5 187.5h0M162.5 176.5h0M157.5 167.5h0M164.5 173.5h0M291.5 293.5h0M190.5 210.5h0M211.5 227.5h0M308.5 311.5h0M147.5 111.5h0M155.5 211.5h0M179.5 161.5h0M162.5 200.5h0M112.5 108.5h0M109.5 139.5h0M153.5 135.5h0M172.5 174.5h0M242.5 233.5h0M247.5 266.5h0M171.5 195.5h0M218.5 223.5h0M249.5 198.5h0M224.5 202.5h0M152.5 191.5h0M234.5 225.5h0M214.5 166.5h0M204.5 203.5h0M229.5 200.5h0M202.5 215.5h0M179.5 151.5h0M127.5 139.5h0M216.5 180.5h0M158.5 187.5h0M174.5 175.5h0M199.5 249.5h0M223.5 220.5h0M147.5 164.5h0M221.5 219.5h0M138.5 168.5h0M254.5 221.5h0M251.5 214.5h0M194.5 207.5h0M255.5 238.5h0M264.5 242.5h0M218.5 229.5h0M108.5 108.5h0M237.5 179.5h0M210.5 213.5h0M248.5 235.5h0M164.5 139.5h0M228.5 246.5h0M212.5 226.5h0M205.5 238.5h0M144.5 132.5h0M168.5 146.5h0M228.5 289.5h0M233.5 253.5h0M188.5 205.5h0M266.5 245.5h0M220.5 209.5h0M268.5 236.5h0M191.5 197.5h0M236.5 190.5h0M102.5 118.5h0M176.5 170.5h0M237.5 195.5h0M189.5 187.5h0M164.5 163.5h0M205.5 217.5h0M202.5 162.5h0M181.5 191.5h0M166.5 170.5h0M182.5 185.5h0M208.5 196.5h0M139.5 123.5h0M138.5 151.5h0M205.5 198.5h0M182.5 202.5h0M211.5 205.5h0M281.5 322.5h0M247.5 229.5h0M261.5 253.5h0M211.5 231.5h0M149.5 170.5h0M97.5 115.5h0M118.5 139.5h0M97.5 67.5h0M133.5 154.5h0M119.5 121.5h0M147.5 155.5h0M209.5 189.5h0M173.5 186.5h0M234.5 255.5h0M245.5 258.5h0M241.5 246.5h0M215.5 212.5h0M168.5 181.5h0M224.5 221.5h0M184.5 196.5h0M208.5 233.5h0M123.5 167.5h0M104.5 132.5h0M214.5 218.5h0M298.5 281.5h0M252.5 262.5h0M140.5 119.5h0M189.5 146.5h0M68.5 100.5h0M142.5 171.5h0M307.5 284.5h0M279.5 284.5h0M143.5 154.5h0M164.5 203.5h0M140.5 177.5h0M142.5 123.5h0M183.5 193.5h0M201.5 166.5h0M205.5 205.5h0M212.5 215.5h0M282.5 257.5h0M199.5 193.5h0M163.5 216.5h0M207.5 194.5h0M221.5 224.5h0M181.5 206.5h0M139.5 161.5h0M177.5 171.5h0M219.5 256.5h0M130.5 167.5h0M237.5 245.5h0M125.5 135.5h0M231.5 231.5h0M222.5 238.5h0M184.5 214.5h0M207.5 170.5h0M272.5 298.5h0M178.5 178.5h0M145.5 182.5h0M204.5 235.5h0M256.5 256.5h0M216.5 218.5h0M262.5 241.5h0M163.5 161.5h0M150.5 172.5h0M139.5 136.5h0M276.5 247.5h0M88.5 90.5h0M147.5 124.5h0M211.5 214.5h0M212.5 230.5h0M276.5 300.5h0M207.5 236.5h0M184.5 166.5h0M254.5 254.5h0M261.5 257.5h0M244.5 263.5h0M217.5 235.5h0M130.5 124.5h0M146.5 149.5h0M288.5 310.5h0M210.5 195.5h0M198.5 207.5h0M185.5 216.5h0M84.5 82.5h0M211.5 195.5h0M190.5 196.5h0M263.5 306.5h0M213.5 188.5h0M193.5 163.5h0M185.5 203.5h0M219.5 208.5h0M179.5 170.5h0M226.5 185.5h0M184.5 180.5h0M193.5 175.5h0M109.5 138.5h0M158.5 160.5h0M115.5 94.5h0M251.5 267.5h0M219.5 227.5h0M113.5 136.5h0M146.5 120.5h0M136.5 159.5h0M207.5 187.5h0M58.5 95.5h0M162.5 169.5h0M247.5 235.5h0M72.5 73.5h0M115.5 126.5h0M186.5 155.5h0M263.5 237.5h0M245.5 277.5h0M295.5 264.5h0M260.5 309.5h0M179.5 177.5h0M166.5 133.5h0M256.5 236.5h0M166.5 207.5h0M193.5 170.5h0M164.5 195.5h0M239.5 252.5h0M156.5 142.5h0M124.5 99.5h0M182.5 146.5h0M204.5 205.5h0M177.5 191.5h0M174.5 211.5h0M80.5 118.5h0M142.5 167.5h0M270.5 237.5h0M197.5 184.5h0M158.5 172.5h0M258.5 253.5h0M168.5 173.5h0M241.5 232.5h0M209.5 210.5h0M206.5 232.5h0M244.5 258.5h0M329.5 296.5h0M268.5 258.5h0M169.5 143.5h0M161.5 124.5h0M169.5 194.5h0M189.5 190.5h0M204.5 263.5h0M191.5 209.5h0M201.5 215.5h0M117.5 107.5h0M215.5 235.5h0M289.5 279.5h0M218.5 258.5h0M190.5 216.5h0M125.5 151.5h0M194.5 201.5h0M208.5 188.5h0M175.5 207.5h0M222.5 225.5h0M314.5 308.5h0M152.5 144.5h0M203.5 232.5h0M113.5 158.5h0M196.5 179.5h0M178.5 209.5h0M215.5 261.5h0M216.5 245.5h0M243.5 213.5h0M173.5 190.5h0M208.5 247.5h0M186.5 223.5h0M196.5 198.5h0M166.5 182.5h0M288.5 283.5h0M233.5 195.5h0M130.5 120.5h0M207.5 238.5h0M56.5 80.5h0M207.5 215.5h0M233.5 239.5h0M199.5 216.5h0M162.5 161.5h0M309.5 282.5h0M254.5 245.5h0M255.5 270.5h0M188.5 181.5h0M221.5 238.5h0M111.5 105.5h0M93.5 88.5h0M129.5 116.5h0M249.5 261.5h0M230.5 257.5h0M162.5 172.5h0M277.5 242.5h0M181.5 221.5h0M85.5 107.5h0M186.5 168.5h0M113.5 106.5h0M191.5 210.5h0M223.5 207.5h0M150.5 169.5h0M251.5 224.5h0M247.5 253.5h0M140.5 163.5h0M229.5 222.5h0M189.5 195.5h0M177.5 188.5h0M264.5 301.5h0M145.5 177.5h0M175.5 183.5h0M229.5 223.5h0M272.5 261.5h0M279.5 301.5h0M302.5 297.5h0M215.5 196.5h0M181.5 162.5h0M144.5 142.5h0M209.5 221.5h0M206.5 182.5h0M163.5 168.5h0M73.5 96.5h0M195.5 170.5h0M194.5 183.5h0M201.5 156.5h0M196.5 171.5h0M204.5 175.5h0M137.5 143.5h0M234.5 226.5h0M215.5 194.5h0M216.5 219.5h0M182.5 187.5h0M187.5 200.5h0M202.5 247.5h0M237.5 236.5h0M253.5 233.5h0M245.5 228.5h0M245.5 267.5h0M123.5 130.5h0M176.5 179.5h0M215.5 178.5h0M296.5 282.5h0M259.5 258.5h0M216.5 166.5h0M156.5 141.5h0M255.5 278.5h0M108.5 113.5h0M212.5 249.5h0M171.5 154.5h0M301.5 282.5h0M204.5 227.5h0M229.5 219.5h0M101.5 71.5h0M274.5 314.5h0M98.5 129.5h0M163.5 162.5h0M230.5 238.5h0M137.5 136.5h0M127.5 93.5h0M255.5 262.5h0M190.5 176.5h0M257.5 237.5h0M211.5 237.5h0M298.5 273.5h0M180.5 193.5h0M303.5 302.5h0M150.5 158.5h0M150.5 147.5h0M161.5 168.5h0M153.5 131.5h0M139.5 189.5h0M270.5 276.5h0M239.5 179.5h0M247.5 271.5h0M237.5 201.5h0M166.5 175.5h0M213.5 206.5h0M205.5 202.5h0M160.5 188.5h0M165.5 179.5h0M268.5 281.5h0M256.5 251.5h0M215.5 216.5h0M206.5 160.5h0M184.5 174.5h0M304.5 301.5h0M163.5 178.5h0M312.5 324.5h0M183.5 151.5h0M134.5 115.5h0M197.5 192.5h0M261.5 295.5h0M198.5 178.5h0M248.5 249.5h0M189.5 183.5h0M238.5 207.5h0M205.5 181.5h0M114.5 107.5h0M212.5 229.5h0M182.5 165.5h0M202.5 184.5h0M239.5 203.5h0M130.5 126.5h0M242.5 213.5h0M209.5 250.5h0M298.5 298.5h0M202.5 233.5h0M165.5 169.5h0M128.5 129.5h0M230.5 212.5h0M202.5 177.5h0M192.5 171.5h0M204.5 197.5h0M220.5 226.5h0M191.5 234.5h0M258.5 275.5h0M191.5 211.5h0M213.5 187.5h0M163.5 140.5h0M195.5 230.5h0M197.5 162.5h0M151.5 162.5h0M208.5 267.5h0M247.5 213.5h0M225.5 193.5h0M175.5 161.5h0M197.5 168.5h0M117.5 137.5h0M229.5 250.5h0M147.5 123.5h0M273.5 276.5h0M302.5 291.5h0M143.5 124.5h0M186.5 194.5h0M131.5 182.5h0M249.5 226.5h0M104.5 156.5h0M220.5 227.5h0M224.5 212.5h0M269.5 240.5h0M93.5 113.5h0M159.5 162.5h0M190.5 186.5h0M176.5 131.5h0M167.5 190.5h0M169.5 136.5h0M211.5 217.5h0M89.5 116.5h0M225.5 246.5h0M158.5 182.5h0M126.5 122.5h0M251.5 268.5h0M220.5 212.5h0M210.5 173.5h0M110.5 105.5h0M255.5 217.5h0M204.5 194.5h0M189.5 199.5h0M145.5 153.5h0M137.5 133.5h0M252.5 273.5h0M175.5 156.5h0M184.5 152.5h0M191.5 215.5h0M163.5 175.5h0M273.5 256.5h0M209.5 234.5h0M339.5 311.5h0M208.5 211.5h0M306.5 315.5h0M169.5 169.5h0M205.5 216.5h0M151.5 140.5h0M199.5 160.5h0M223.5 237.5h0M267.5 269.5h0M187.5 186.5h0M130.5 123.5h0M197.5 185.5h0M172.5 179.5h0M240.5 247.5h0M268.5 247.5h0M155.5 175.5h0M159.5 170.5h0M62.5 77.5h0M185.5 153.5h0M229.5 258.5h0M247.5 247.5h0M230.5 240.5h0M221.5 243.5h0M253.5 254.5h0M256.5 255.5h0M220.5 220.5h0M211.5 189.5h0M268.5 267.5h0M264.5 292.5h0M182.5 158.5h0M264.5 225.5h0M188.5 222.5h0M337.5 305.5h0M190.5 182.5h0M178.5 164.5h0M253.5 244.5h0M144.5 154.5h0M190.5 163.5h0M243.5 299.5h0M281.5 283.5h0M255.5 266.5h0M119.5 89.5h0M137.5 120.5h0M72.5 60.5h0M325.5 348.5h0M182.5 163.5h0M176.5 188.5h0M209.5 201.5h0M241.5 225.5h0M177.5 194.5h0M214.5 190.5h0M128.5 144.5h0M310.5 280.5h0M284.5 297.5h0M169.5 223.5h0M292.5 305.5h0M198.5 213.5h0M238.5 229.5h0M173.5 191.5h0M237.5 203.5h0M87.5 59.5h0M90.5 88.5h0M208.5 245.5h0M239.5 208.5h0M231.5 183.5h0M231.5 238.5h0M235.5 198.5h0M208.5 182.5h0M233.5 218.5h0M286.5 266.5h0M157.5 152.5h0M172.5 195.5h0M258.5 242.5h0M248.5 258.5h0M273.5 284.5h0M191.5 173.5h0M303.5 301.5h0M293.5 322.5h0M207.5 221.5h0M245.5 257.5h0M172.5 185.5h0M255.5 247.5h0M134.5 150.5h0M147.5 163.5h0M187.5 183.5h0M320.5 313.5h0M250.5 222.5h0M253.5 277.5h0M210.5 157.5h0M102.5 93.5h0M233.5 223.5h0M178.5 176.5h0M134.5 111.5h0M219.5 258.5h0M278.5 270.5h0M171.5 202.5h0M278.5 296.5h0M137.5 142.5h0M234.5 241.5h0M221.5 220.5h0M248.5 270.5h0M261.5 252.5h0M203.5 219.5h0M161.5 161.5h0M175.5 188.5h0M201.5 186.5h0M220.5 218.5h0M149.5 171.5h0M221.5 196.5h0M203.5 201.5h0M242.5 217.5h0M241.5 259.5h0M120.5 97.5h0M220.5 177.5h0M229.5 201.5h0M219.5 191.5h0M120.5 176.5h0M246.5 232.5h0M281.5 298.5h0M157.5 166.5h0M227.5 256.5h0M192.5 213.5h0M192.5 223.5h0M202.5 224.5h0M195.5 206.5h0M107.5 95.5h0M230.5 279.5h0M228.5 204.5h0M213.5 183.5h0M276.5 264.5h0M180.5 206.5h0M263.5 254.5h0M240.5 246.5h0M195.5 178.5h0M123.5 151.5h0M222.5 229.5h0M212.5 214.5h0M236.5 270.5h0M131.5 112.5h0M177.5 212.5h0M203.5 223.5h0M232.5 205.5h0M209.5 205.5h0M211.5 223.5h0M94.5 69.5h0M194.5 175.5h0M150.5 183.5h0M187.5 226.5h0M173.5 188.5h0M140.5 143.5h0M140.5 118.5h0M208.5 227.5h0M76.5 65.5h0M195.5 197.5h0M141.5 145.5h0M197.5 218.5h0M292.5 306.5h0M278.5 228.5h0M204.5 191.5h0M266.5 290.5h0M282.5 313.5h0M242.5 262.5h0M284.5 308.5h0M224.5 200.5h0M234.5 234.5h0M195.5 199.5h0M170.5 193.5h0M167.5 156.5h0M314.5 316.5h0M288.5 292.5h0M269.5 283.5h0M129.5 164.5h0M308.5 273.5h0M221.5 192.5h0M162.5 187.5h0M146.5 143.5h0M270.5 251.5h0M147.5 173.5h0M235.5 224.5h0M297.5 297.5h0M246.5 213.5h0M221.5 161.5h0M231.5 237.5h0M209.5 252.5h0M123.5 155.5h0M122.5 100.5h0M198.5 149.5h0M117.5 105.5h0M204.5 185.5h0M210.5 211.5h0M152.5 154.5h0M159.5 195.5h0M175.5 179.5h0M142.5 155.5h0M289.5 321.5h0M178.5 199.5h0M325.5 327.5h0M185.5 184.5h0M149.5 173.5h0M253.5 275.5h0M174.5 158.5h0M102.5 80.5h0M272.5 246.5h0M259.5 237.5h0M133.5 119.5h0M136.5 135.5h0M207.5 188.5h0M128.5 171.5h0M106.5 136.5h0M112.5 162.5h0M286.5 298.5h0M246.5 264.5h0M145.5 142.5h0M176.5 206.5h0M197.5 212.5h0M267.5 312.5h0M145.5 185.5h0M157.5 159.5h0M218.5 174.5h0M175.5 175.5h0M146.5 146.5h0M156.5 170.5h0M275.5 258.5h0M130.5 169.5h0M183.5 238.5h0M180.5 187.5h0M238.5 245.5h0M221.5 244.5h0M313.5 324.5h0M141.5 144.5h0M176.5 214.5h0M193.5 180.5h0M186.5 203.5h0M344.5 321.5h0M71.5 87.5h0M227.5 238.5h0M192.5 204.5h0M272.5 236.5h0M201.5 187.5h0M242.5 235.5h0M262.5 268.5h0M258.5 261.5h0M106.5 93.5h0M160.5 166.5h0M123.5 135.5h0M125.5 187.5h0M300.5 312.5h0M158.5 169.5h0M183.5 179.5h0M191.5 185.5h0M264.5 286.5h0M168.5 166.5h0M238.5 242.5h0M206.5 247.5h0M101.5 79.5h0M130.5 125.5h0M94.5 112.5h0M162.5 205.5h0M90.5 141.5h0M221.5 211.5h0M181.5 203.5h0M88.5 138.5h0M165.5 197.5h0M146.5 131.5h0M169.5 160.5h0M196.5 221.5h0M221.5 202.5h0M262.5 287.5h0M204.5 195.5h0M253.5 273.5h0M200.5 216.5h0M160.5 189.5h0M148.5 153.5h0M135.5 145.5h0M128.5 163.5h0M164.5 136.5h0M236.5 281.5h0M167.5 154.5h0M160.5 187.5h0M119.5 126.5h0M143.5 158.5h0M242.5 237.5h0M148.5 175.5h0M198.5 199.5h0M263.5 235.5h0M210.5 226.5h0M135.5 144.5h0M242.5 281.5h0M90.5 118.5h0M165.5 162.5h0M235.5 242.5h0M170.5 175.5h0M204.5 179.5h0M297.5 296.5h0M279.5 253.5h0M173.5 175.5h0M229.5 196.5h0M189.5 176.5h0M163.5 118.5h0M119.5 130.5h0M142.5 134.5h0M181.5 234.5h0M137.5 157.5h0M314.5 339.5h0M218.5 230.5h0M215.5 244.5h0M259.5 236.5h0M120.5 164.5h0M124.5 147.5h0M201.5 168.5h0M220.5 234.5h0M223.5 228.5h0M262.5 302.5h0M270.5 269.5h0M249.5 256.5h0M249.5 265.5h0M221.5 266.5h0M183.5 174.5h0M244.5 255.5h0M115.5 116.5h0M251.5 296.5h0M307.5 288.5h0M195.5 159.5h0M213.5 269.5h0M209.5 214.5h0M136.5 169.5h0M219.5 226.5h0M233.5 229.5h0M246.5 266.5h0M215.5 207.5h0M192.5 154.5h0M249.5 263.5h0M180.5 219.5h0M232.5 266.5h0M182.5 157.5h0M191.5 230.5h0M168.5 164.5h0M206.5 194.5h0M242.5 242.5h0M158.5 168.5h0M299.5 309.5h0M153.5 176.5h0M170.5 199.5h0M311.5 322.5h0M283.5 307.5h0M221.5 228.5h0M236.5 225.5h0M175.5 126.5h0M207.5 219.5h0M128.5 150.5h0M239.5 271.5h0M199.5 183.5h0M196.5 162.5h0M190.5 201.5h0M247.5 260.5h0M229.5 215.5h0M155.5 173.5h0M143.5 173.5h0M135.5 165.5h0M224.5 231.5h0M130.5 161.5h0M118.5 120.5h0M200.5 198.5h0M215.5 243.5h0M240.5 203.5h0M182.5 200.5h0M165.5 180.5h0M139.5 141.5h0M221.5 205.5h0M270.5 278.5h0M183.5 212.5h0M107.5 119.5h0M206.5 229.5h0M210.5 170.5h0M225.5 240.5h0M171.5 186.5h0M145.5 184.5h0M169.5 130.5h0M199.5 224.5h0M150.5 175.5h0M193.5 179.5h0M205.5 161.5h0M228.5 233.5h0M154.5 198.5h0M232.5 248.5h0M116.5 134.5h0M181.5 170.5h0M245.5 218.5h0M304.5 263.5h0M200.5 184.5h0M298.5 249.5h0M146.5 181.5h0M203.5 226.5h0M214.5 233.5h0M205.5 188.5h0M224.5 192.5h0M274.5 278.5h0M229.5 227.5h0M167.5 171.5h0M194.5 233.5h0M289.5 289.5h0M255.5 225.5h0M188.5 229.5h0M252.5 286.5h0M269.5 219.5h0M230.5 182.5h0M143.5 188.5h0M178.5 229.5h0M236.5 258.5h0M125.5 164.5h0M108.5 134.5h0M132.5 133.5h0M209.5 193.5h0M181.5 232.5h0M227.5 223.5h0M176.5 136.5h0M228.5 247.5h0M190.5 202.5h0M150.5 155.5h0M185.5 202.5h0M136.5 121.5h0M243.5 255.5h0M118.5 132.5h0M163.5 187.5h0M294.5 278.5h0M125.5 186.5h0M201.5 211.5h0M262.5 238.5h0M215.5 179.5h0M122.5 128.5h0M170.5 172.5h0M184.5 203.5h0M137.5 103.5h0M205.5 219.5h0M219.5 245.5h0M229.5 190.5h0M221.5 209.5h0M186.5 170.5h0M121.5 121.5h0M232.5 228.5h0M195.5 200.5h0M285.5 265.5h0M130.5 143.5h0M221.5 186.5h0M305.5 306.5h0M101.5 154.5h0M146.5 124.5h0M184.5 229.5h0M139.5 130.5h0M191.5 205.5h0M177.5 156.5h0M206.5 158.5h0M259.5 255.5h0M217.5 187.5h0M120.5 136.5h0M183.5 144.5h0M167.5 151.5h0M197.5 150.5h0M82.5 92.5h0M294.5 283.5h0M112.5 112.5h0M202.5 168.5h0M156.5 171.5h0M271.5 240.5h0M221.5 174.5h0M144.5 159.5h0M225.5 219.5h0M153.5 129.5h0M96.5 137.5h0M178.5 196.5h0M135.5 104.5h0M238.5 206.5h0M117.5 124.5h0M139.5 178.5h0M164.5 140.5h0M99.5 87.5h0M233.5 225.5h0M226.5 227.5h0M209.5 220.5h0M181.5 200.5h0M187.5 229.5h0M241.5 211.5h0M198.5 170.5h0M221.5 226.5h0M239.5 247.5h0M255.5 248.5h0M180.5 166.5h0M155.5 188.5h0M227.5 235.5h0M183.5 183.5h0M181.5 190.5h0M212.5 220.5h0M257.5 272.5h0M144.5 126.5h0M229.5 235.5h0M135.5 128.5h0M190.5 192.5h0M171.5 162.5h0M298.5 279.5h0M155.5 145.5h0M275.5 238.5h0M149.5 166.5h0M136.5 147.5h0M224.5 205.5h0M263.5 242.5h0M205.5 186.5h0M243.5 216.5h0M224.5 198.5h0M272.5 267.5h0M187.5 211.5h0M236.5 251.5h0M134.5 146.5h0M205.5 175.5h0M225.5 270.5h0M177.5 175.5h0M240.5 236.5h0M233.5 226.5h0M177.5 193.5h0M180.5 186.5h0M223.5 216.5h0M241.5 272.5h0M219.5 213.5h0M170.5 179.5h0M249.5 251.5h0M126.5 167.5h0M162.5 179.5h0M226.5 211.5h0M194.5 241.5h0M179.5 180.5h0M208.5 214.5h0M130.5 116.5h0M137.5 134.5h0M267.5 274.5h0M188.5 170.5h0M177.5 169.5h0M202.5 171.5h0M272.5 316.5h0M205.5 220.5h0M190.5 223.5h0M248.5 207.5h0M287.5 250.5h0M226.5 198.5h0M154.5 169.5h0M207.5 196.5h0M307.5 279.5h0M210.5 179.5h0M218.5 214.5h0M116.5 111.5h0M208.5 207.5h0M234.5 233.5h0M196.5 226.5h0M154.5 164.5h0M144.5 184.5h0M170.5 159.5h0M226.5 242.5h0M205.5 151.5h0M189.5 166.5h0M77.5 108.5h0M207.5 168.5h0M243.5 262.5h0M80.5 111.5h0M236.5 204.5h0M199.5 199.5h0M93.5 133.5h0M149.5 211.5h0M247.5 252.5h0M180.5 221.5h0M264.5 251.5h0M177.5 192.5h0M234.5 257.5h0M133.5 143.5h0M141.5 174.5h0M262.5 288.5h0M251.5 289.5h0M236.5 261.5h0M121.5 129.5h0M185.5 195.5h0M154.5 159.5h0M293.5 304.5h0M116.5 151.5h0M121.5 154.5h0M151.5 192.5h0M203.5 234.5h0M157.5 188.5h0M193.5 181.5h0M112.5 102.5h0M165.5 112.5h0M273.5 297.5h0M214.5 195.5h0M300.5 289.5h0M282.5 271.5h0M198.5 214.5h0M259.5 302.5h0M177.5 183.5h0M303.5 329.5h0M220.5 246.5h0M232.5 235.5h0M193.5 157.5h0M202.5 182.5h0M175.5 182.5h0M187.5 135.5h0M210.5 220.5h0M271.5 260.5h0M293.5 316.5h0M236.5 253.5h0M184.5 217.5h0M232.5 242.5h0M282.5 302.5h0M272.5 243.5h0M224.5 228.5h0M241.5 245.5h0M153.5 177.5h0M155.5 158.5h0M231.5 217.5h0M247.5 265.5h0M277.5 230.5h0M265.5 234.5h0M175.5 208.5h0M217.5 184.5h0M259.5 269.5h0M323.5 299.5h0M62.5 81.5h0M262.5 274.5h0M154.5 185.5h0M184.5 165.5h0M126.5 166.5h0M224.5 216.5h0M146.5 169.5h0M197.5 196.5h0M115.5 146.5h0M259.5 273.5h0M236.5 244.5h0M138.5 156.5h0M227.5 230.5h0M143.5 181.5h0M200.5 218.5h0M245.5 251.5h0M284.5 279.5h0M202.5 235.5h0M272.5 257.5h0M238.5 241.5h0M252.5 227.5h0M260.5 249.5h0M179.5 191.5h0M279.5 282.5h0M124.5 151.5h0M183.5 142.5h0M226.5 210.5h0M176.5 204.5h0M258.5 245.5h0M246.5 249.5h0M164.5 174.5h0M283.5 301.5h0M154.5 171.5h0M189.5 173.5h0M209.5 183.5h0M195.5 232.5h0M135.5 159.5h0M206.5 225.5h0M83.5 99.5h0M168.5 186.5h0M176.5 137.5h0M163.5 169.5h0M182.5 211.5h0M209.5 217.5h0M151.5 175.5h0M193.5 210.5h0M245.5 248.5h0M149.5 180.5h0M199.5 168.5h0M184.5 212.5h0M259.5 220.5h0M190.5 244.5h0M189.5 192.5h0M225.5 214.5h0M141.5 181.5h0M201.5 260.5h0M272.5 259.5h0M153.5 179.5h0M104.5 94.5h0M167.5 180.5h0M177.5 209.5h0M267.5 248.5h0M141.5 165.5h0M222.5 241.5h0M240.5 245.5h0M239.5 263.5h0M93.5 103.5h0M206.5 205.5h0M183.5 143.5h0M253.5 236.5h0M284.5 283.5h0M211.5 255.5h0M123.5 150.5h0M278.5 243.5h0M125.5 147.5h0M179.5 179.5h0M245.5 263.5h0M165.5 172.5h0M158.5 212.5h0M168.5 112.5h0M219.5 198.5h0M155.5 187.5h0M285.5 287.5h0M285.5 295.5h0M287.5 266.5h0M136.5 158.5h0M301.5 285.5h0M227.5 201.5h0M237.5 210.5h0M194.5 222.5h0M171.5 171.5h0M237.5 248.5h0M278.5 274.5h0M241.5 213.5h0M195.5 203.5h0M167.5 183.5h0M196.5 169.5h0M287.5 273.5h0M243.5 223.5h0M112.5 120.5h0M102.5 117.5h0M233.5 232.5h0M227.5 233.5h0M252.5 257.5h0M155.5 176.5h0M101.5 124.5h0M161.5 144.5h0M76.5 88.5h0M235.5 210.5h0M126.5 87.5h0M140.5 114.5h0M216.5 243.5h0M119.5 76.5h0M157.5 168.5h0M181.5 176.5h0M230.5 204.5h0M203.5 196.5h0M160.5 179.5h0M195.5 239.5h0M266.5 247.5h0M160.5 212.5h0M200.5 171.5h0M237.5 224.5h0M88.5 91.5h0M251.5 261.5h0M226.5 223.5h0M223.5 225.5h0M236.5 255.5h0M214.5 223.5h0M97.5 117.5h0M157.5 202.5h0M170.5 180.5h0M221.5 236.5h0M160.5 159.5h0M162.5 132.5h0M215.5 177.5h0M138.5 165.5h0M212.5 223.5h0M274.5 264.5h0M100.5 68.5h0M199.5 194.5h0M277.5 234.5h0M189.5 169.5h0M135.5 148.5h0M161.5 146.5h0M243.5 209.5h0M164.5 176.5h0M246.5 257.5h0M199.5 202.5h0M192.5 147.5h0M168.5 183.5h0M226.5 218.5h0M145.5 169.5h0M124.5 153.5h0M214.5 230.5h0M297.5 285.5h0M210.5 255.5h0M152.5 205.5h0M249.5 243.5h0M119.5 127.5h0M122.5 143.5h0M173.5 138.5h0M205.5 227.5h0M183.5 190.5h0M191.5 200.5h0M228.5 223.5h0M190.5 228.5h0M277.5 273.5h0M214.5 261.5h0M134.5 177.5h0M199.5 192.5h0M157.5 185.5h0M164.5 193.5h0M291.5 289.5h0M183.5 136.5h0M265.5 264.5h0M181.5 219.5h0M297.5 283.5h0M306.5 293.5h0M194.5 173.5h0M259.5 262.5h0M120.5 174.5h0M178.5 151.5h0M194.5 208.5h0M195.5 202.5h0M209.5 171.5h0M314.5 269.5h0M65.5 97.5h0M160.5 186.5h0M147.5 134.5h0M180.5 172.5h0M229.5 218.5h0M188.5 211.5h0M328.5 306.5h0M134.5 129.5h0M187.5 162.5h0M228.5 260.5h0M176.5 183.5h0M192.5 221.5h0M128.5 112.5h0M265.5 206.5h0M184.5 201.5h0M222.5 234.5h0M139.5 164.5h0M169.5 171.5h0M145.5 164.5h0M272.5 295.5h0M113.5 103.5h0M245.5 196.5h0M202.5 221.5h0M260.5 267.5h0M217.5 208.5h0M159.5 131.5h0M203.5 246.5h0M106.5 112.5h0M250.5 255.5h0M202.5 183.5h0M168.5 152.5h0M169.5 176.5h0M96.5 127.5h0M145.5 178.5h0M274.5 279.5h0M215.5 198.5h0M272.5 322.5h0M135.5 135.5h0M248.5 238.5h0M183.5 207.5h0M159.5 171.5h0M240.5 242.5h0M208.5 163.5h0M179.5 140.5h0M175.5 198.5h0M163.5 152.5h0M249.5 257.5h0M213.5 172.5h0M219.5 254.5h0M151.5 143.5h0M288.5 289.5h0M169.5 215.5h0M278.5 283.5h0M141.5 152.5h0M148.5 137.5h0M279.5 293.5h0M178.5 190.5h0M195.5 179.5h0M205.5 166.5h0M146.5 141.5h0M235.5 264.5h0M141.5 128.5h0M127.5 156.5h0M333.5 331.5h0M234.5 274.5h0M108.5 111.5h0M167.5 162.5h0M145.5 158.5h0M159.5 148.5h0M218.5 261.5h0M193.5 205.5h0M163.5 179.5h0M170.5 158.5h0M166.5 172.5h0M161.5 204.5h0M143.5 132.5h0M151.5 149.5h0M77.5 87.5h0M203.5 187.5h0M216.5 237.5h0M185.5 157.5h0M263.5 274.5h0M169.5 146.5h0M260.5 254.5h0M178.5 242.5h0M162.5 150.5h0M203.5 228.5h0M171.5 182.5h0M263.5 247.5h0M186.5 186.5h0M243.5 206.5h0M253.5 258.5h0M239.5 244.5h0M206.5 170.5h0M162.5 155.5h0M244.5 257.5h0M150.5 134.5h0M217.5 219.5h0M281.5 279.5h0M109.5 122.5h0M122.5 171.5h0M209.5 173.5h0M221.5 227.5h0M157.5 136.5h0M143.5 116.5h0M198.5 156.5h0M216.5 201.5h0M177.5 177.5h0M152.5 145.5h0M231.5 235.5h0M138.5 141.5h0M119.5 128.5h0M306.5 311.5h0M200.5 186.5h0M162.5 128.5h0M185.5 148.5h0M136.5 143.5h0M225.5 198.5h0M156.5 169.5h0M164.5 149.5h0M257.5 235.5h0M127.5 118.5h0M246.5 245.5h0M170.5 206.5h0M157.5 143.5h0M204.5 188.5h0M181.5 186.5h0M204.5 223.5h0M190.5 183.5h0M303.5 287.5h0M248.5 256.5h0M254.5 257.5h0M132.5 139.5h0M197.5 163.5h0M229.5 228.5h0M188.5 210.5h0M198.5 190.5h0M104.5 96.5h0M130.5 177.5h0M145.5 109.5h0M270.5 245.5h0M138.5 117.5h0M276.5 261.5h0M206.5 221.5h0M189.5 211.5h0M236.5 231.5h0M321.5 303.5h0M141.5 135.5h0M212.5 180.5h0M305.5 263.5h0M309.5 333.5h0M255.5 285.5h0M251.5 216.5h0M232.5 232.5h0M144.5 107.5h0M98.5 132.5h0M206.5 206.5h0M206.5 180.5h0M124.5 152.5h0M287.5 260.5h0M193.5 186.5h0M340.5 338.5h0M200.5 174.5h0M218.5 259.5h0M189.5 174.5h0M194.5 206.5h0M166.5 181.5h0M316.5 288.5h0M257.5 222.5h0M243.5 239.5h0M204.5 215.5h0M135.5 154.5h0M251.5 201.5h0M226.5 192.5h0M196.5 206.5h0M84.5 93.5h0M142.5 145.5h0M179.5 201.5h0M207.5 212.5h0M248.5 229.5h0M188.5 180.5h0M205.5 213.5h0M166.5 127.5h0M235.5 229.5h0M236.5 264.5h0M172.5 197.5h0M169.5 181.5h0M186.5 183.5h0M307.5 298.5h0M110.5 123.5h0M205.5 215.5h0M214.5 197.5h0M117.5 131.5h0M225.5 250.5h0M245.5 223.5h0M185.5 188.5h0M206.5 201.5h0M239.5 260.5h0M235.5 252.5h0M161.5 155.5h0M309.5 294.5h0M208.5 222.5h0M292.5 292.5h0M161.5 179.5h0M174.5 162.5h0M266.5 253.5h0M218.5 221.5h0M267.5 264.5h0M217.5 231.5h0M187.5 182.5h0M103.5 107.5h0M79.5 90.5h0M248.5 223.5h0M221.5 242.5h0M156.5 156.5h0M193.5 191.5h0M212.5 197.5h0M273.5 231.5h0M121.5 122.5h0M226.5 216.5h0M211.5 248.5h0M140.5 148.5h0M198.5 223.5h0M244.5 241.5h0M171.5 164.5h0M255.5 233.5h0M209.5 229.5h0M230.5 244.5h0M235.5 236.5h0M193.5 233.5h0M322.5 333.5h0M172.5 203.5h0M274.5 248.5h0M211.5 192.5h0M135.5 117.5h0M218.5 235.5h0M269.5 262.5h0M226.5 257.5h0M241.5 244.5h0M149.5 172.5h0M221.5 215.5h0M121.5 142.5h0M297.5 291.5h0M282.5 282.5h0M160.5 138.5h0M202.5 163.5h0M151.5 127.5h0M159.5 124.5h0M191.5 166.5h0M250.5 220.5h0M181.5 194.5h0M249.5 230.5h0M143.5 131.5h0M244.5 256.5h0M135.5 152.5h0M189.5 177.5h0M154.5 117.5h0M231.5 225.5h0M123.5 173.5h0M243.5 220.5h0M286.5 317.5h0M97.5 76.5h0M216.5 207.5h0M258.5 210.5h0M238.5 209.5h0M261.5 249.5h0M185.5 214.5h0M229.5 192.5h0M109.5 111.5h0M288.5 309.5h0M244.5 252.5h0M168.5 195.5h0M248.5 240.5h0M276.5 268.5h0M295.5 285.5h0M286.5 268.5h0M247.5 272.5h0M151.5 155.5h0M212.5 185.5h0M234.5 221.5h0M184.5 228.5h0M179.5 211.5h0M196.5 232.5h0M221.5 221.5h0M142.5 116.5h0M163.5 165.5h0M223.5 200.5h0M151.5 147.5h0M175.5 227.5h0M153.5 166.5h0M239.5 258.5h0M201.5 191.5h0M171.5 177.5h0M292.5 271.5h0M201.5 171.5h0M206.5 196.5h0M217.5 190.5h0M259.5 235.5h0M230.5 262.5h0M254.5 268.5h0M131.5 153.5h0M299.5 276.5h0M307.5 286.5h0M195.5 236.5h0M255.5 259.5h0M248.5 214.5h0M137.5 161.5h0M265.5 246.5h0M138.5 138.5h0M152.5 187.5h0M265.5 263.5h0M164.5 197.5h0M118.5 161.5h0M224.5 183.5h0M153.5 143.5h0M133.5 112.5h0M243.5 266.5h0M191.5 168.5h0M215.5 184.5h0M159.5 182.5h0M180.5 202.5h0M187.5 159.5h0M210.5 169.5h0M167.5 191.5h0M198.5 215.5h0M303.5 271.5h0M202.5 257.5h0M160.5 158.5h0M224.5 250.5h0M205.5 187.5h0M217.5 215.5h0M328.5 340.5h0M208.5 203.5h0M171.5 134.5h0M247.5 273.5h0M276.5 251.5h0M260.5 287.5h0M82.5 57.5h0M146.5 165.5h0M156.5 167.5h0M124.5 114.5h0M198.5 222.5h0M240.5 278.5h0M241.5 258.5h0M189.5 219.5h0M305.5 260.5h0M199.5 232.5h0M59.5 55.5h0M187.5 184.5h0M177.5 149.5h0M182.5 177.5h0M183.5 186.5h0M165.5 158.5h0M127.5 132.5h0M202.5 223.5h0M238.5 228.5h0M187.5 212.5h0M164.5 175.5h0M141.5 121.5h0M152.5 168.5h0M139.5 150.5h0M237.5 288.5h0M175.5 197.5h0M262.5 282.5h0M192.5 192.5h0M162.5 141.5h0M270.5 265.5h0M80.5 108.5h0M188.5 166.5h0M199.5 240.5h0M170.5 149.5h0M220.5 189.5h0M275.5 271.5h0M271.5 256.5h0M87.5 97.5h0M156.5 160.5h0M199.5 191.5h0M249.5 240.5h0M203.5 206.5h0M208.5 159.5h0M195.5 207.5h0M163.5 150.5h0M244.5 239.5h0M158.5 145.5h0M286.5 263.5h0M202.5 197.5h0M245.5 227.5h0M135.5 141.5h0M235.5 215.5h0M205.5 170.5h0M201.5 165.5h0M256.5 209.5h0M234.5 193.5h0M197.5 180.5h0M170.5 181.5h0M302.5 282.5h0M266.5 288.5h0M145.5 138.5h0M266.5 258.5h0M211.5 243.5h0M228.5 216.5h0M319.5 335.5h0M292.5 320.5h0M197.5 219.5h0M224.5 232.5h0M196.5 200.5h0M147.5 141.5h0M186.5 163.5h0M194.5 138.5h0M197.5 166.5h0M230.5 233.5h0M185.5 170.5h0M121.5 109.5h0M258.5 288.5h0M162.5 175.5h0M285.5 261.5h0M203.5 220.5h0M232.5 221.5h0M171.5 139.5h0M180.5 178.5h0M186.5 205.5h0M213.5 233.5h0M250.5 232.5h0M127.5 124.5h0M164.5 122.5h0M279.5 228.5h0M276.5 288.5h0M257.5 219.5h0M239.5 186.5h0M212.5 202.5h0M156.5 186.5h0M167.5 217.5h0M241.5 241.5h0M265.5 252.5h0M153.5 198.5h0M182.5 180.5h0M215.5 229.5h0M143.5 164.5h0M228.5 235.5h0M164.5 204.5h0M238.5 249.5h0M202.5 205.5h0M190.5 164.5h0M150.5 140.5h0M262.5 259.5h0M183.5 206.5h0M119.5 123.5h0M137.5 131.5h0M209.5 145.5h0M132.5 169.5h0M230.5 195.5h0M137.5 125.5h0M81.5 101.5h0M255.5 253.5h0M99.5 119.5h0M281.5 302.5h0M191.5 187.5h0M271.5 282.5h0M191.5 222.5h0M265.5 241.5h0M287.5 288.5h0M279.5 243.5h0M109.5 159.5h0M225.5 229.5h0M154.5 115.5h0M260.5 269.5h0M114.5 129.5h0M326.5 321.5h0M120.5 110.5h0M139.5 116.5h0M224.5 244.5h0M170.5 198.5h0M184.5 191.5h0M145.5 148.5h0M195.5 185.5h0M147.5 159.5h0M114.5 120.5h0M91.5 73.5h0M152.5 169.5h0M239.5 215.5h0M216.5 244.5h0M176.5 171.5h0M58.5 64.5h0M232.5 214.5h0M242.5 239.5h0M260.5 262.5h0M269.5 227.5h0M95.5 121.5h0M181.5 185.5h0M162.5 177.5h0M245.5 256.5h0M209.5 192.5h0M235.5 213.5h0M176.5 141.5h0M188.5 168.5h0M116.5 139.5h0M140.5 131.5h0M223.5 248.5h0M271.5 277.5h0M290.5 294.5h0M124.5 83.5h0M155.5 179.5h0M158.5 208.5h0M223.5 208.5h0M215.5 233.5h0M173.5 153.5h0M263.5 238.5h0M211.5 191.5h0M107.5 114.5h0M126.5 160.5h0M261.5 232.5h0M132.5 142.5h0M238.5 203.5h0M172.5 191.5h0M142.5 129.5h0M165.5 154.5h0M154.5 165.5h0M287.5 251.5h0M153.5 155.5h0M211.5 233.5h0M144.5 155.5h0M159.5 158.5h0M168.5 159.5h0M277.5 313.5h0M258.5 265.5h0M132.5 137.5h0M230.5 210.5h0M266.5 276.5h0M121.5 140.5h0M198.5 146.5h0M250.5 290.5h0M140.5 160.5h0M228.5 224.5h0M173.5 231.5h0M131.5 148.5h0M187.5 154.5h0M272.5 297.5h0M247.5 205.5h0M195.5 189.5h0M243.5 215.5h0M118.5 101.5h0M149.5 133.5h0M134.5 156.5h0M146.5 156.5h0M93.5 121.5h0M231.5 208.5h0M153.5 184.5h0M253.5 262.5h0M171.5 201.5h0M177.5 170.5h0M164.5 192.5h0M265.5 251.5h0M171.5 168.5h0M259.5 260.5h0M204.5 160.5h0M203.5 177.5h0M174.5 171.5h0M207.5 209.5h0M107.5 162.5h0M105.5 114.5h0M207.5 174.5h0M174.5 186.5h0M149.5 120.5h0M315.5 289.5h0M223.5 204.5h0M145.5 165.5h0M213.5 228.5h0M179.5 181.5h0M87.5 105.5h0M235.5 173.5h0M222.5 281.5h0M264.5 229.5h0M175.5 150.5h0M151.5 122.5h0M222.5 254.5h0M162.5 190.5h0M249.5 233.5h0M248.5 202.5h0M206.5 167.5h0M125.5 138.5h0M153.5 185.5h0M143.5 153.5h0M267.5 249.5h0M140.5 158.5h0M183.5 169.5h0M171.5 187.5h0M321.5 316.5h0M241.5 249.5h0M120.5 118.5h0M250.5 213.5h0M230.5 214.5h0M175.5 190.5h0M180.5 159.5h0M96.5 118.5h0M163.5 182.5h0M182.5 156.5h0M142.5 149.5h0M169.5 182.5h0M121.5 101.5h0M259.5 242.5h0M185.5 183.5h0M113.5 150.5h0M197.5 136.5h0M119.5 129.5h0M177.5 201.5h0M229.5 203.5h0M235.5 244.5h0M226.5 246.5h0M116.5 117.5h0M197.5 199.5h0M219.5 264.5h0M223.5 202.5h0M260.5 222.5h0M186.5 198.5h0M162.5 166.5h0M164.5 199.5h0M173.5 189.5h0M171.5 213.5h0M156.5 177.5h0M272.5 239.5h0M222.5 191.5h0M248.5 212.5h0M260.5 257.5h0M202.5 147.5h0M138.5 109.5h0M267.5 234.5h0M182.5 194.5h0M224.5 281.5h0M208.5 160.5h0M228.5 185.5h0M147.5 129.5h0M202.5 211.5h0M153.5 192.5h0M210.5 186.5h0M191.5 194.5h0M137.5 169.5h0M222.5 226.5h0M91.5 93.5h0M176.5 144.5h0M254.5 219.5h0M209.5 226.5h0M82.5 114.5h0M195.5 219.5h0M254.5 279.5h0M221.5 259.5h0M217.5 252.5h0M197.5 203.5h0M164.5 111.5h0M184.5 209.5h0M311.5 316.5h0M194.5 196.5h0M238.5 208.5h0M91.5 95.5h0M322.5 302.5h0M198.5 168.5h0M185.5 171.5h0M183.5 223.5h0M135.5 101.5h0M256.5 240.5h0M260.5 231.5h0M222.5 249.5h0M179.5 158.5h0M175.5 153.5h0M192.5 163.5h0M222.5 194.5h0M165.5 107.5h0M126.5 117.5h0M211.5 188.5h0M238.5 258.5h0M173.5 180.5h0M279.5 290.5h0M108.5 87.5h0M254.5 256.5h0M159.5 166.5h0M190.5 198.5h0M316.5 310.5h0M120.5 124.5h0M170.5 184.5h0M147.5 140.5h0M274.5 263.5h0M138.5 185.5h0M103.5 102.5h0M184.5 193.5h0M291.5 239.5h0M178.5 161.5h0M239.5 233.5h0M281.5 286.5h0M187.5 214.5h0M198.5 206.5h0M235.5 226.5h0M225.5 168.5h0M233.5 214.5h0M174.5 203.5h0M215.5 250.5h0M197.5 210.5h0M164.5 183.5h0M221.5 239.5h0M243.5 207.5h0M152.5 141.5h0M194.5 218.5h0M244.5 243.5h0M218.5 213.5h0M261.5 247.5h0M283.5 268.5h0M263.5 213.5h0M212.5 225.5h0M176.5 135.5h0M112.5 101.5h0M257.5 263.5h0M162.5 186.5h0M212.5 176.5h0M257.5 229.5h0M146.5 162.5h0M253.5 241.5h0M212.5 188.5h0M163.5 114.5h0M201.5 240.5h0M194.5 190.5h0M120.5 152.5h0M185.5 199.5h0M239.5 225.5h0M241.5 223.5h0M101.5 108.5h0M241.5 260.5h0M188.5 215.5h0M131.5 169.5h0M207.5 208.5h0M258.5 248.5h0M171.5 161.5h0M203.5 142.5h0M261.5 299.5h0M202.5 204.5h0M156.5 149.5h0M206.5 163.5h0M153.5 148.5h0M249.5 197.5h0M259.5 271.5h0M262.5 289.5h0M176.5 134.5h0M181.5 150.5h0M140.5 123.5h0M223.5 253.5h0M201.5 193.5h0M185.5 219.5h0M54.5 55.5h0M164.5 177.5h0M311.5 289.5h0M233.5 201.5h0M275.5 237.5h0M230.5 265.5h0M334.5 329.5h0M308.5 307.5h0M140.5 156.5h0M203.5 218.5h0M170.5 196.5h0M182.5 207.5h0M103.5 108.5h0M201.5 176.5h0M130.5 155.5h0M202.5 212.5h0M266.5 283.5h0M216.5 226.5h0M239.5 230.5h0M274.5 271.5h0M219.5 183.5h0M236.5 183.5h0M240.5 237.5h0M189.5 193.5h0M274.5 262.5h0M176.5 169.5h0M176.5 218.5h0M196.5 181.5h0M181.5 227.5h0M189.5 172.5h0M86.5 81.5h0M263.5 262.5h0M175.5 189.5h0M224.5 259.5h0M137.5 162.5h0M220.5 247.5h0M134.5 142.5h0M277.5 278.5h0M194.5 167.5h0M88.5 87.5h0M185.5 169.5h0M184.5 156.5h0M173.5 167.5h0M188.5 163.5h0M237.5 263.5h0M147.5 178.5h0M136.5 157.5h0M215.5 224.5h0M184.5 179.5h0M223.5 184.5h0M231.5 250.5h0M239.5 238.5h0M162.5 108.5h0M174.5 189.5h0M167.5 145.5h0M74.5 81.5h0M193.5 166.5h0M325.5 316.5h0M247.5 231.5h0M235.5 239.5h0M224.5 273.5h0M120.5 120.5h0M198.5 195.5h0M314.5 290.5h0M174.5 159.5h0M138.5 119.5h0M200.5 213.5h0M324.5 317.5h0M216.5 242.5h0M137.5 168.5h0M113.5 120.5h0M253.5 247.5h0M285.5 259.5h0M269.5 249.5h0M163.5 173.5h0M319.5 291.5h0M256.5 232.5h0M235.5 247.5h0M212.5 255.5h0M327.5 332.5h0M130.5 139.5h0M234.5 219.5h0M169.5 188.5h0M287.5 236.5h0M191.5 214.5h0M255.5 288.5h0M171.5 174.5h0M209.5 181.5h0M251.5 242.5h0M184.5 177.5h0M219.5 234.5h0M251.5 295.5h0M234.5 231.5h0M253.5 255.5h0M187.5 215.5h0M326.5 282.5h0M315.5 328.5h0M182.5 173.5h0M200.5 246.5h0M207.5 202.5h0M215.5 239.5h0M200.5 190.5h0M128.5 162.5h0M172.5 198.5h0M266.5 259.5h0M224.5 253.5h0M201.5 178.5h0M186.5 167.5h0M122.5 146.5h0M192.5 237.5h0M249.5 232.5h0M242.5 254.5h0M191.5 218.5h0M207.5 182.5h0M157.5 161.5h0M181.5 173.5h0M179.5 198.5h0M200.5 240.5h0M216.5 210.5h0M186.5 195.5h0M207.5 210.5h0M196.5 195.5h0M99.5 121.5h0M241.5 257.5h0M126.5 108.5h0M202.5 153.5h0M189.5 179.5h0M176.5 212.5h0M177.5 184.5h0M153.5 168.5h0M202.5 229.5h0M136.5 133.5h0M149.5 167.5h0M214.5 204.5h0M131.5 113.5h0M209.5 206.5h0M203.5 207.5h0M244.5 273.5h0M170.5 161.5h0M159.5 142.5h0M197.5 191.5h0M168.5 192.5h0M196.5 225.5h0M162.5 153.5h0M229.5 205.5h0M278.5 279.5h0M261.5 279.5h0M139.5 134.5h0M169.5 139.5h0M189.5 165.5h0M294.5 265.5h0M203.5 231.5h0M171.5 199.5h0M188.5 178.5h0M228.5 231.5h0M115.5 109.5h0M183.5 157.5h0M192.5 189.5h0M210.5 187.5h0M213.5 189.5h0M214.5 254.5h0M217.5 203.5h0M241.5 271.5h0M186.5 197.5h0M162.5 191.5h0M152.5 161.5h0M256.5 233.5h0M117.5 150.5h0M245.5 213.5h0M155.5 146.5h0M231.5 223.5h0M156.5 124.5h0M136.5 185.5h0M86.5 106.5h0M192.5 220.5h0M93.5 125.5h0M189.5 181.5h0M206.5 243.5h0M115.5 108.5h0M179.5 202.5h0M95.5 108.5h0M255.5 222.5h0M150.5 136.5h0M239.5 246.5h0M233.5 237.5h0M210.5 189.5h0M158.5 190.5h0M119.5 168.5h0M112.5 122.5h0M158.5 199.5h0M191.5 171.5h0M199.5 227.5h0M183.5 213.5h0M140.5 191.5h0M210.5 258.5h0M280.5 324.5h0M170.5 178.5h0M206.5 241.5h0M178.5 141.5h0M247.5 249.5h0M177.5 147.5h0M136.5 136.5h0M242.5 258.5h0M93.5 97.5h0M188.5 219.5h0M106.5 72.5h0M237.5 233.5h0M205.5 231.5h0M307.5 307.5h0M220.5 172.5h0M234.5 283.5h0M240.5 221.5h0M252.5 256.5h0M279.5 239.5h0M297.5 260.5h0M244.5 259.5h0M190.5 226.5h0M262.5 209.5h0M234.5 201.5h0M337.5 347.5h0M157.5 172.5h0M126.5 150.5h0M132.5 148.5h0M213.5 176.5h0M220.5 190.5h0M249.5 267.5h0M229.5 212.5h0M257.5 262.5h0M265.5 292.5h0M206.5 210.5h0M216.5 214.5h0M259.5 248.5h0M119.5 153.5h0M219.5 206.5h0M250.5 236.5h0M78.5 87.5h0M160.5 170.5h0M167.5 207.5h0M177.5 161.5h0M80.5 97.5h0M253.5 269.5h0M207.5 232.5h0M115.5 101.5h0M221.5 194.5h0M249.5 260.5h0M225.5 254.5h0M134.5 173.5h0M197.5 147.5h0M220.5 213.5h0M141.5 203.5h0M228.5 239.5h0M230.5 192.5h0M276.5 233.5h0M113.5 94.5h0M142.5 127.5h0M125.5 126.5h0M147.5 189.5h0M227.5 214.5h0M193.5 184.5h0M226.5 230.5h0M155.5 172.5h0M247.5 257.5h0M259.5 231.5h0M101.5 125.5h0M155.5 138.5h0M212.5 274.5h0M260.5 221.5h0M291.5 294.5h0M134.5 113.5h0M201.5 222.5h0M193.5 206.5h0M98.5 89.5h0M197.5 159.5h0M129.5 141.5h0M267.5 277.5h0M162.5 165.5h0M153.5 174.5h0M111.5 128.5h0M171.5 180.5h0M212.5 218.5h0M298.5 275.5h0M166.5 152.5h0M252.5 242.5h0M129.5 127.5h0M128.5 165.5h0M286.5 292.5h0M214.5 238.5h0M192.5 180.5h0M350.5 346.5h0M204.5 186.5h0M237.5 255.5h0M253.5 293.5h0M248.5 293.5h0M188.5 196.5h0M292.5 268.5h0M158.5 152.5h0M104.5 135.5h0M139.5 181.5h0M247.5 240.5h0M99.5 140.5h0M238.5 217.5h0M99.5 108.5h0M344.5 338.5h0M187.5 164.5h0M188.5 239.5h0M294.5 300.5h0M228.5 193.5h0M205.5 221.5h0M225.5 244.5h0M177.5 182.5h0M303.5 290.5h0M270.5 260.5h0M227.5 198.5h0M275.5 263.5h0M204.5 196.5h0M170.5 186.5h0M243.5 217.5h0M149.5 101.5h0M167.5 210.5h0M157.5 139.5h0M157.5 138.5h0M231.5 171.5h0M228.5 217.5h0M148.5 185.5h0M93.5 111.5h0M73.5 65.5h0M128.5 107.5h0M280.5 272.5h0M240.5 243.5h0M149.5 139.5h0M269.5 268.5h0M194.5 205.5h0M69.5 97.5h0M212.5 183.5h0M155.5 159.5h0M326.5 333.5h0M108.5 159.5h0M210.5 164.5h0M197.5 178.5h0M177.5 152.5h0M196.5 203.5h0M233.5 208.5h0M182.5 178.5h0M205.5 199.5h0M142.5 161.5h0M185.5 193.5h0M213.5 193.5h0M261.5 250.5h0M235.5 220.5h0M161.5 160.5h0M267.5 254.5h0M186.5 178.5h0M242.5 229.5h0M176.5 159.5h0M235.5 228.5h0M157.5 208.5h0M161.5 188.5h0M229.5 214.5h0M168.5 144.5h0M254.5 271.5h0M174.5 151.5h0M161.5 189.5h0M270.5 254.5h0M109.5 136.5h0M222.5 271.5h0M206.5 200.5h0M196.5 213.5h0M200.5 219.5h0M123.5 181.5h0M207.5 223.5h0M161.5 139.5h0M141.5 123.5h0M127.5 128.5h0M189.5 161.5h0M127.5 134.5h0M160.5 200.5h0M240.5 218.5h0M162.5 198.5h0M136.5 148.5h0M204.5 208.5h0M166.5 155.5h0M185.5 167.5h0M271.5 223.5h0M134.5 145.5h0M85.5 115.5h0M159.5 165.5h0M77.5 107.5h0M255.5 282.5h0M237.5 241.5h0M223.5 239.5h0M122.5 106.5h0M186.5 157.5h0M105.5 124.5h0M262.5 244.5h0M274.5 265.5h0M119.5 101.5h0M189.5 171.5h0M130.5 137.5h0M225.5 255.5h0M323.5 336.5h0M139.5 148.5h0M238.5 218.5h0M185.5 220.5h0M238.5 230.5h0M191.5 165.5h0M278.5 290.5h0M214.5 185.5h0M196.5 202.5h0M87.5 131.5h0M244.5 217.5h0M200.5 226.5h0M292.5 267.5h0M99.5 95.5h0M118.5 112.5h0M143.5 145.5h0M226.5 254.5h0M191.5 191.5h0M186.5 164.5h0M194.5 204.5h0M70.5 107.5h0M176.5 154.5h0M165.5 166.5h0M190.5 195.5h0M120.5 109.5h0M202.5 206.5h0M171.5 188.5h0M223.5 189.5h0M283.5 267.5h0M234.5 195.5h0M144.5 131.5h0M292.5 265.5h0M195.5 195.5h0M217.5 222.5h0M198.5 188.5h0M193.5 171.5h0M295.5 312.5h0M272.5 263.5h0M294.5 280.5h0M176.5 215.5h0M218.5 184.5h0M142.5 175.5h0M149.5 143.5h0M280.5 267.5h0M128.5 83.5h0M149.5 189.5h0M172.5 142.5h0M143.5 149.5h0M283.5 302.5h0M222.5 213.5h0M143.5 138.5h0M300.5 305.5h0M218.5 227.5h0M240.5 184.5h0M263.5 279.5h0M190.5 218.5h0M260.5 258.5h0M295.5 273.5h0M123.5 138.5h0M285.5 300.5h0M227.5 253.5h0M89.5 71.5h0M311.5 287.5h0M224.5 236.5h0M235.5 225.5h0M225.5 231.5h0M296.5 255.5h0M152.5 151.5h0M146.5 188.5h0M168.5 127.5h0M189.5 235.5h0M178.5 202.5h0M195.5 223.5h0M252.5 275.5h0M288.5 282.5h0M97.5 137.5h0M209.5 186.5h0M196.5 183.5h0M174.5 218.5h0M97.5 72.5h0M232.5 217.5h0M191.5 188.5h0M110.5 108.5h0M184.5 195.5h0M187.5 195.5h0M244.5 248.5h0M180.5 191.5h0M143.5 155.5h0M158.5 181.5h0M147.5 135.5h0M171.5 218.5h0M161.5 186.5h0M236.5 228.5h0M226.5 236.5h0M191.5 203.5h0M206.5 204.5h0M223.5 244.5h0M167.5 143.5h0M210.5 194.5h0M124.5 148.5h0M217.5 182.5h0M123.5 136.5h0M167.5 173.5h0M208.5 209.5h0M110.5 112.5h0M294.5 272.5h0M173.5 187.5h0M178.5 131.5h0M119.5 119.5h0M190.5 217.5h0M175.5 191.5h0M229.5 239.5h0M184.5 167.5h0M242.5 263.5h0M124.5 130.5h0M325.5 282.5h0M161.5 176.5h0M340.5 312.5h0M200.5 203.5h0M173.5 178.5h0M202.5 198.5h0M196.5 204.5h0M215.5 254.5h0M207.5 190.5h0M236.5 230.5h0M180.5 214.5h0M147.5 125.5h0M259.5 219.5h0M157.5 206.5h0M194.5 225.5h0M170.5 210.5h0M142.5 153.5h0M269.5 286.5h0M137.5 152.5h0M237.5 256.5h0M114.5 92.5h0M210.5 212.5h0M179.5 188.5h0M260.5 235.5h0M225.5 195.5h0M313.5 312.5h0M172.5 169.5h0M135.5 166.5h0M133.5 166.5h0M187.5 203.5h0M264.5 223.5h0M257.5 207.5h0M259.5 253.5h0M140.5 138.5h0M100.5 115.5h0M281.5 253.5h0M185.5 200.5h0M176.5 190.5h0M242.5 201.5h0M130.5 134.5h0M232.5 181.5h0M258.5 304.5h0M257.5 281.5h0M130.5 107.5h0M206.5 202.5h0M145.5 197.5h0M263.5 232.5h0M128.5 166.5h0M170.5 192.5h0M237.5 235.5h0M255.5 231.5h0M169.5 165.5h0M207.5 224.5h0M84.5 101.5h0M185.5 178.5h0M269.5 285.5h0M148.5 167.5h0M213.5 166.5h0M256.5 228.5h0M205.5 172.5h0M154.5 136.5h0M189.5 208.5h0M151.5 161.5h0M117.5 142.5h0M139.5 102.5h0M159.5 126.5h0M182.5 199.5h0M203.5 197.5h0M156.5 182.5h0M245.5 266.5h0M219.5 242.5h0M212.5 193.5h0M264.5 252.5h0M296.5 256.5h0M236.5 237.5h0M172.5 172.5h0M264.5 258.5h0M184.5 206.5h0M222.5 208.5h0M225.5 211.5h0M109.5 107.5h0M275.5 288.5h0M181.5 226.5h0M291.5 314.5h0M234.5 176.5h0M181.5 140.5h0M253.5 234.5h0M236.5 175.5h0M238.5 255.5h0M194.5 163.5h0M169.5 164.5h0M163.5 170.5h0M227.5 218.5h0M199.5 221.5h0M269.5 243.5h0M153.5 152.5h0M212.5 166.5h0M176.5 146.5h0M217.5 198.5h0M236.5 254.5h0M172.5 160.5h0M224.5 245.5h0M146.5 191.5h0M115.5 168.5h0M154.5 148.5h0M97.5 105.5h0M209.5 194.5h0M86.5 126.5h0M203.5 216.5h0M158.5 146.5h0M94.5 92.5h0M155.5 137.5h0M205.5 189.5h0M199.5 222.5h0M326.5 306.5h0M206.5 220.5h0M155.5 170.5h0M150.5 187.5h0M155.5 139.5h0M241.5 247.5h0M179.5 206.5h0M234.5 235.5h0M199.5 236.5h0M319.5 310.5h0M184.5 210.5h0M164.5 178.5h0M269.5 253.5h0M179.5 205.5h0M218.5 191.5h0M120.5 146.5h0M285.5 291.5h0M256.5 288.5h0M165.5 132.5h0M163.5 172.5h0M126.5 114.5h0M130.5 150.5h0M268.5 268.5h0M165.5 211.5h0M148.5 136.5h0M203.5 241.5h0M204.5 238.5h0M236.5 221.5h0M282.5 252.5h0M251.5 235.5h0M217.5 227.5h0M266.5 233.5h0M193.5 204.5h0M185.5 209.5h0M179.5 194.5h0M112.5 99.5h0M136.5 142.5h0M338.5 333.5h0M155.5 152.5h0M190.5 167.5h0M149.5 121.5h0M230.5 241.5h0M119.5 139.5h0M230.5 221.5h0M207.5 218.5h0M193.5 176.5h0M183.5 195.5h0M177.5 145.5h0M222.5 206.5h0M150.5 143.5h0M247.5 233.5h0M156.5 185.5h0M270.5 236.5h0M158.5 143.5h0M242.5 214.5h0M273.5 251.5h0M197.5 208.5h0M263.5 276.5h0M202.5 178.5h0M196.5 215.5h0M295.5 296.5h0M256.5 250.5h0M230.5 216.5h0M302.5 311.5h0M200.5 180.5h0M224.5 239.5h0M197.5 249.5h0M136.5 161.5h0M185.5 201.5h0M267.5 265.5h0M169.5 155.5h0M248.5 220.5h0M269.5 254.5h0M213.5 216.5h0M129.5 171.5h0M179.5 162.5h0M225.5 189.5h0M240.5 251.5h0M159.5 173.5h0M185.5 180.5h0M141.5 136.5h0M301.5 315.5h0M189.5 205.5h0M232.5 278.5h0M196.5 164.5h0M177.5 207.5h0M126.5 107.5h0M244.5 246.5h0M230.5 211.5h0M245.5 252.5h0M226.5 267.5h0M226.5 259.5h0M142.5 130.5h0M266.5 256.5h0M157.5 187.5h0M183.5 161.5h0M159.5 152.5h0M281.5 287.5h0M210.5 229.5h0M152.5 137.5h0M127.5 119.5h0M231.5 239.5h0M202.5 237.5h0M256.5 274.5h0M224.5 219.5h0M92.5 123.5h0M254.5 287.5h0M164.5 190.5h0M252.5 254.5h0M135.5 116.5h0M263.5 268.5h0M153.5 130.5h0M215.5 213.5h0M159.5 211.5h0M289.5 300.5h0M214.5 236.5h0M282.5 261.5h0M186.5 221.5h0M122.5 115.5h0M308.5 312.5h0M209.5 199.5h0M116.5 133.5h0M217.5 267.5h0M188.5 183.5h0M140.5 117.5h0M83.5 93.5h0M158.5 151.5h0M193.5 211.5h0M142.5 141.5h0M175.5 137.5h0M232.5 211.5h0M268.5 287.5h0M247.5 241.5h0M120.5 144.5h0M260.5 272.5h0M183.5 146.5h0M269.5 298.5h0M231.5 229.5h0M180.5 201.5h0M225.5 216.5h0M157.5 156.5h0M237.5 216.5h0M187.5 167.5h0M226.5 238.5h0M246.5 242.5h0M266.5 251.5h0M264.5 305.5h0M89.5 141.5h0M269.5 264.5h0M226.5 219.5h0M272.5 224.5h0M119.5 156.5h0M177.5 204.5h0M193.5 220.5h0M257.5 246.5h0M180.5 199.5h0M260.5 280.5h0M309.5 287.5h0M235.5 281.5h0M236.5 220.5h0M132.5 134.5h0M159.5 149.5h0M179.5 128.5h0M277.5 250.5h0M177.5 165.5h0M260.5 285.5h0M212.5 204.5h0M205.5 178.5h0M133.5 125.5h0M166.5 196.5h0M224.5 268.5h0M233.5 242.5h0M203.5 217.5h0M211.5 209.5h0M313.5 338.5h0M217.5 202.5h0M126.5 101.5h0M86.5 101.5h0M171.5 158.5h0M208.5 218.5h0M214.5 205.5h0M239.5 227.5h0M144.5 161.5h0M207.5 193.5h0M247.5 192.5h0M196.5 168.5h0M162.5 157.5h0M210.5 249.5h0M263.5 255.5h0M220.5 193.5h0M88.5 76.5h0M176.5 185.5h0M171.5 184.5h0M161.5 198.5h0M266.5 237.5h0M250.5 282.5h0M155.5 134.5h0M129.5 147.5h0M217.5 250.5h0M163.5 159.5h0M186.5 212.5h0M215.5 167.5h0M224.5 191.5h0M145.5 149.5h0M158.5 176.5h0M202.5 216.5h0M190.5 212.5h0M146.5 115.5h0M313.5 282.5h0M114.5 143.5h0M114.5 118.5h0M249.5 248.5h0M88.5 129.5h0M253.5 240.5h0M202.5 214.5h0M229.5 186.5h0M83.5 129.5h0M118.5 122.5h0M116.5 131.5h0M261.5 282.5h0M132.5 175.5h0M155.5 168.5h0M153.5 170.5h0M188.5 177.5h0M179.5 192.5h0M171.5 176.5h0M209.5 188.5h0M286.5 267.5h0M197.5 193.5h0M119.5 131.5h0M242.5 218.5h0M277.5 292.5h0M228.5 211.5h0M293.5 273.5h0M283.5 233.5h0M205.5 200.5h0M138.5 113.5h0M280.5 287.5h0M201.5 207.5h0M118.5 133.5h0M129.5 88.5h0M232.5 194.5h0M200.5 182.5h0M215.5 215.5h0M258.5 266.5h0M174.5 161.5h0M141.5 169.5h0M88.5 81.5h0M164.5 155.5h0M259.5 251.5h0M171.5 175.5h0M196.5 234.5h0M291.5 317.5h0M282.5 268.5h0M157.5 176.5h0M221.5 204.5h0M214.5 198.5h0M258.5 264.5h0M202.5 243.5h0M153.5 112.5h0M231.5 206.5h0M216.5 215.5h0M281.5 296.5h0M217.5 220.5h0M161.5 177.5h0M202.5 239.5h0M142.5 135.5h0M201.5 238.5h0M174.5 140.5h0M85.5 110.5h0M130.5 165.5h0M200.5 192.5h0M126.5 177.5h0M193.5 213.5h0M164.5 170.5h0M222.5 235.5h0M188.5 175.5h0M154.5 153.5h0M219.5 199.5h0M249.5 222.5h0M272.5 283.5h0M173.5 166.5h0M129.5 131.5h0M94.5 114.5h0M133.5 159.5h0M186.5 179.5h0M170.5 191.5h0M112.5 107.5h0M182.5 214.5h0M196.5 178.5h0M174.5 198.5h0M98.5 100.5h0M204.5 234.5h0M185.5 192.5h0M209.5 212.5h0M223.5 210.5h0M153.5 142.5h0M135.5 137.5h0M248.5 225.5h0M175.5 135.5h0M293.5 318.5h0M174.5 232.5h0M196.5 220.5h0M135.5 158.5h0M298.5 294.5h0M182.5 150.5h0M92.5 71.5h0M240.5 214.5h0M230.5 201.5h0M244.5 213.5h0M148.5 157.5h0M236.5 194.5h0M219.5 260.5h0M177.5 162.5h0M190.5 203.5h0M215.5 226.5h0M225.5 239.5h0M181.5 183.5h0M204.5 204.5h0M292.5 299.5h0M285.5 309.5h0M130.5 151.5h0M301.5 309.5h0M190.5 160.5h0M128.5 134.5h0M168.5 200.5h0M142.5 180.5h0M240.5 231.5h0M198.5 210.5h0M232.5 249.5h0M195.5 204.5h0M214.5 164.5h0M170.5 125.5h0M193.5 230.5h0M202.5 172.5h0M299.5 290.5h0M253.5 260.5h0M188.5 202.5h0M214.5 207.5h0M103.5 97.5h0M232.5 237.5h0M97.5 118.5h0M181.5 148.5h0M169.5 192.5h0M115.5 96.5h0M221.5 208.5h0M183.5 201.5h0M234.5 204.5h0M189.5 191.5h0M175.5 204.5h0M213.5 239.5h0M240.5 249.5h0M194.5 181.5h0M229.5 247.5h0M286.5 284.5h0M150.5 122.5h0M223.5 169.5h0M101.5 117.5h0M193.5 225.5h0M236.5 286.5h0M167.5 202.5h0M126.5 140.5h0M208.5 217.5h0M105.5 125.5h0M131.5 108.5h0M185.5 205.5h0M128.5 146.5h0M133.5 86.5h0M247.5 250.5h0M318.5 301.5h0M218.5 220.5h0M206.5 197.5h0M186.5 215.5h0M225.5 213.5h0M193.5 209.5h0M170.5 177.5h0M319.5 309.5h0M222.5 211.5h0M192.5 172.5h0M124.5 140.5h0M215.5 211.5h0M158.5 162.5h0M220.5 219.5h0M138.5 130.5h0M182.5 210.5h0M260.5 243.5h0M145.5 139.5h0M144.5 149.5h0M236.5 272.5h0M220.5 196.5h0M225.5 232.5h0M110.5 104.5h0M112.5 83.5h0M118.5 125.5h0M112.5 95.5h0M164.5 167.5h0M210.5 205.5h0M103.5 98.5h0M245.5 278.5h0M155.5 135.5h0M177.5 205.5h0M206.5 222.5h0M264.5 240.5h0M305.5 280.5h0M297.5 312.5h0M242.5 245.5h0M182.5 171.5h0M115.5 119.5h0M208.5 225.5h0M189.5 141.5h0M163.5 199.5h0M168.5 172.5h0M180.5 168.5h0M322.5 313.5h0M223.5 257.5h0M178.5 160.5h0M198.5 231.5h0M273.5 262.5h0M128.5 141.5h0M210.5 204.5h0M167.5 169.5h0M186.5 211.5h0M170.5 171.5h0M203.5 253.5h0M203.5 193.5h0M274.5 285.5h0M147.5 156.5h0M178.5 195.5h0M215.5 252.5h0M211.5 211.5h0M283.5 253.5h0M170.5 185.5h0M233.5 276.5h0M284.5 287.5h0M216.5 202.5h0M100.5 125.5h0M291.5 323.5h0M258.5 259.5h0M73.5 88.5h0M238.5 240.5h0M160.5 175.5h0M160.5 130.5h0M178.5 159.5h0M216.5 255.5h0M198.5 175.5h0M182.5 196.5h0M188.5 167.5h0M102.5 82.5h0M111.5 146.5h0M190.5 188.5h0M117.5 156.5h0M196.5 160.5h0M215.5 220.5h0M209.5 168.5h0M217.5 240.5h0M222.5 172.5h0M90.5 125.5h0M235.5 219.5h0M283.5 277.5h0M153.5 208.5h0M288.5 268.5h0M149.5 181.5h0M208.5 192.5h0M256.5 242.5h0M241.5 254.5h0M242.5 236.5h0M156.5 181.5h0M216.5 188.5h0M113.5 119.5h0M245.5 215.5h0M114.5 158.5h0M202.5 175.5h0M223.5 270.5h0M340.5 334.5h0M124.5 157.5h0M188.5 158.5h0M150.5 200.5h0M195.5 220.5h0M267.5 225.5h0M99.5 92.5h0M239.5 265.5h0M198.5 252.5h0M285.5 284.5h0M307.5 264.5h0M218.5 248.5h0M274.5 256.5h0M174.5 174.5h0M154.5 144.5h0M245.5 192.5h0M229.5 232.5h0M307.5 292.5h0M199.5 172.5h0M239.5 204.5h0M258.5 222.5h0M296.5 301.5h0M187.5 149.5h0M283.5 278.5h0M284.5 271.5h0M212.5 210.5h0M214.5 253.5h0M193.5 217.5h0M274.5 280.5h0M229.5 217.5h0M169.5 222.5h0M222.5 209.5h0M260.5 304.5h0M243.5 219.5h0M146.5 107.5h0M250.5 238.5h0M142.5 198.5h0M220.5 215.5h0M277.5 275.5h0M200.5 204.5h0M194.5 195.5h0M255.5 263.5h0M228.5 190.5h0M237.5 214.5h0M186.5 156.5h0M207.5 242.5h0M184.5 189.5h0M212.5 222.5h0M180.5 203.5h0M227.5 212.5h0M184.5 151.5h0M165.5 117.5h0M219.5 243.5h0M266.5 280.5h0M201.5 200.5h0M215.5 219.5h0M109.5 140.5h0M151.5 164.5h0M176.5 160.5h0M260.5 286.5h0M190.5 211.5h0M187.5 191.5h0M191.5 212.5h0M223.5 227.5h0M124.5 122.5h0M219.5 228.5h0M228.5 285.5h0M272.5 244.5h0M316.5 297.5h0M194.5 215.5h0M306.5 268.5h0M190.5 230.5h0M175.5 174.5h0M156.5 197.5h0M144.5 127.5h0M161.5 143.5h0M188.5 185.5h0M196.5 147.5h0M234.5 228.5h0M224.5 224.5h0M230.5 255.5h0M149.5 149.5h0M216.5 221.5h0M177.5 230.5h0M237.5 223.5h0M203.5 176.5h0M153.5 169.5h0M129.5 160.5h0M245.5 255.5h0M146.5 164.5h0M88.5 82.5h0M223.5 247.5h0M201.5 167.5h0M159.5 134.5h0M229.5 224.5h0M123.5 109.5h0M212.5 240.5h0M115.5 155.5h0M110.5 133.5h0M193.5 177.5h0M161.5 118.5h0M219.5 189.5h0M206.5 213.5h0M175.5 181.5h0M116.5 128.5h0M168.5 179.5h0M194.5 189.5h0M188.5 201.5h0M226.5 263.5h0M231.5 192.5h0M188.5 164.5h0M294.5 290.5h0M217.5 195.5h0M219.5 207.5h0M129.5 112.5h0M210.5 230.5h0M171.5 189.5h0M79.5 92.5h0M272.5 292.5h0M228.5 249.5h0M154.5 134.5h0M176.5 229.5h0M249.5 259.5h0M108.5 82.5h0M205.5 212.5h0M162.5 201.5h0M198.5 220.5h0M211.5 244.5h0M157.5 124.5h0M137.5 174.5h0M149.5 150.5h0M123.5 146.5h0M192.5 208.5h0M244.5 204.5h0M265.5 270.5h0M158.5 161.5h0M218.5 222.5h0M190.5 239.5h0M273.5 303.5h0M114.5 128.5h0M177.5 168.5h0M299.5 319.5h0M150.5 154.5h0M232.5 199.5h0M271.5 267.5h0M151.5 170.5h0M202.5 200.5h0M185.5 197.5h0M258.5 251.5h0M208.5 244.5h0M235.5 207.5h0M102.5 111.5h0M200.5 178.5h0M169.5 123.5h0M257.5 211.5h0M276.5 272.5h0M174.5 143.5h0M122.5 124.5h0M165.5 155.5h0M251.5 215.5h0M252.5 288.5h0M241.5 261.5h0M78.5 101.5h0M109.5 168.5h0M166.5 174.5h0M181.5 187.5h0M109.5 149.5h0M174.5 191.5h0M264.5 245.5h0M224.5 264.5h0M137.5 173.5h0M238.5 232.5h0M148.5 152.5h0M243.5 260.5h0M198.5 171.5h0M239.5 219.5h0M218.5 224.5h0M288.5 269.5h0M330.5 331.5h0M217.5 229.5h0M228.5 226.5h0M246.5 222.5h0M147.5 128.5h0M213.5 205.5h0M214.5 191.5h0M301.5 329.5h0M173.5 206.5h0M167.5 167.5h0M295.5 295.5h0M184.5 160.5h0M95.5 80.5h0M234.5 248.5h0M144.5 175.5h0M246.5 241.5h0M150.5 178.5h0M147.5 185.5h0M224.5 248.5h0M134.5 153.5h0M136.5 173.5h0M253.5 224.5h0M160.5 181.5h0M160.5 150.5h0M237.5 252.5h0M203.5 214.5h0M201.5 169.5h0M310.5 324.5h0M248.5 215.5h0M208.5 271.5h0M208.5 191.5h0M264.5 291.5h0M285.5 269.5h0M160.5 164.5h0M123.5 153.5h0M216.5 236.5h0M275.5 230.5h0M94.5 79.5h0M213.5 170.5h0M194.5 177.5h0M160.5 157.5h0M166.5 151.5h0M214.5 214.5h0M143.5 171.5h0M167.5 149.5h0M87.5 111.5h0M205.5 193.5h0M256.5 289.5h0M177.5 172.5h0M233.5 197.5h0M294.5 271.5h0M149.5 182.5h0M236.5 245.5h0M184.5 192.5h0M170.5 147.5h0M190.5 181.5h0M253.5 286.5h0M242.5 291.5h0M103.5 116.5h0M128.5 120.5h0M145.5 176.5h0M90.5 115.5h0M155.5 190.5h0M199.5 205.5h0M144.5 133.5h0M148.5 129.5h0M256.5 279.5h0M157.5 195.5h0M194.5 209.5h0M227.5 196.5h0M213.5 173.5h0M125.5 167.5h0M97.5 110.5h0M104.5 65.5h0M137.5 146.5h0M141.5 138.5h0M118.5 110.5h0M136.5 163.5h0M216.5 216.5h0M263.5 263.5h0M226.5 207.5h0M260.5 256.5h0M294.5 328.5h0M282.5 234.5h0M141.5 154.5h0M255.5 267.5h0M242.5 189.5h0M185.5 158.5h0M222.5 237.5h0M225.5 165.5h0M83.5 112.5h0M270.5 247.5h0M175.5 158.5h0M193.5 215.5h0M270.5 310.5h0M265.5 273.5h0M198.5 200.5h0M274.5 272.5h0M119.5 152.5h0M222.5 244.5h0M178.5 165.5h0M186.5 199.5h0M187.5 165.5h0M220.5 241.5h0M111.5 104.5h0M159.5 193.5h0M253.5 288.5h0M74.5 93.5h0M208.5 170.5h0M138.5 124.5h0M59.5 66.5h0M217.5 224.5h0M171.5 179.5h0M253.5 278.5h0M112.5 96.5h0M299.5 265.5h0M92.5 118.5h0M156.5 172.5h0M152.5 171.5h0M276.5 295.5h0M181.5 208.5h0M215.5 173.5h0M236.5 232.5h0M248.5 211.5h0M289.5 304.5h0M189.5 163.5h0M149.5 136.5h0M210.5 223.5h0M232.5 276.5h0M192.5 170.5h0M272.5 248.5h0M161.5 201.5h0M267.5 263.5h0M310.5 297.5h0M187.5 197.5h0M282.5 273.5h0M215.5 249.5h0M203.5 198.5h0M317.5 300.5h0M273.5 264.5h0M229.5 238.5h0M157.5 110.5h0M289.5 292.5h0M196.5 231.5h0M232.5 208.5h0M150.5 179.5h0M206.5 181.5h0M122.5 101.5h0M125.5 145.5h0M156.5 190.5h0M176.5 225.5h0M177.5 215.5h0M256.5 276.5h0M340.5 325.5h0M74.5 85.5h0M265.5 294.5h0M244.5 262.5h0M216.5 209.5h0M109.5 98.5h0M181.5 204.5h0M283.5 288.5h0M193.5 219.5h0M175.5 177.5h0M239.5 235.5h0M185.5 161.5h0M326.5 329.5h0M236.5 181.5h0M171.5 152.5h0M178.5 170.5h0M202.5 170.5h0M202.5 248.5h0M140.5 132.5h0M144.5 163.5h0M237.5 218.5h0M170.5 176.5h0M164.5 165.5h0M217.5 192.5h0M262.5 210.5h0M169.5 156.5h0M157.5 131.5h0M190.5 207.5h0M252.5 250.5h0M119.5 88.5h0M139.5 135.5h0M244.5 244.5h0M101.5 78.5h0M200.5 177.5h0M168.5 149.5h0M131.5 178.5h0M346.5 316.5h0M238.5 261.5h0M142.5 142.5h0M178.5 145.5h0M281.5 262.5h0M221.5 248.5h0M185.5 232.5h0M178.5 163.5h0M213.5 212.5h0M222.5 202.5h0M179.5 222.5h0M262.5 260.5h0M237.5 231.5h0M246.5 221.5h0M214.5 271.5h0M158.5 173.5h0M199.5 190.5h0M136.5 149.5h0M182.5 228.5h0M98.5 118.5h0M222.5 176.5h0M242.5 205.5h0M265.5 222.5h0M271.5 266.5h0M218.5 256.5h0M108.5 138.5h0M149.5 102.5h0M220.5 248.5h0M220.5 198.5h0M231.5 219.5h0M203.5 200.5h0M226.5 200.5h0M202.5 194.5h0M181.5 202.5h0M190.5 222.5h0M138.5 159.5h0M148.5 158.5h0M180.5 153.5h0M258.5 198.5h0M197.5 183.5h0M275.5 319.5h0M235.5 235.5h0M254.5 284.5h0M153.5 154.5h0M246.5 250.5h0M123.5 158.5h0M229.5 181.5h0M167.5 148.5h0M245.5 253.5h0M206.5 188.5h0M205.5 180.5h0M249.5 271.5h0M131.5 135.5h0M231.5 194.5h0M150.5 165.5h0M116.5 115.5h0M144.5 146.5h0M153.5 162.5h0M181.5 146.5h0M273.5 249.5h0M168.5 154.5h0M286.5 273.5h0M208.5 185.5h0M234.5 250.5h0M118.5 140.5h0M223.5 250.5h0M79.5 121.5h0M220.5 255.5h0M162.5 182.5h0M234.5 242.5h0M317.5 303.5h0M284.5 276.5h0M143.5 114.5h0M222.5 193.5h0M222.5 207.5h0M97.5 73.5h0M179.5 168.5h0M171.5 157.5h0M233.5 211.5h0M181.5 193.5h0M248.5 221.5h0M179.5 147.5h0M195.5 201.5h0M168.5 233.5h0M263.5 241.5h0M201.5 235.5h0M132.5 132.5h0M257.5 247.5h0M279.5 248.5h0M259.5 275.5h0M253.5 239.5h0M231.5 256.5h0M236.5 184.5h0M130.5 166.5h0M74.5 122.5h0M144.5 141.5h0M302.5 306.5h0M159.5 196.5h0M183.5 176.5h0M148.5 138.5h0M160.5 136.5h0M219.5 210.5h0M149.5 148.5h0M252.5 212.5h0M130.5 138.5h0M201.5 196.5h0M159.5 177.5h0M255.5 258.5h0M216.5 177.5h0M274.5 251.5h0M145.5 137.5h0M147.5 157.5h0M306.5 272.5h0M220.5 202.5h0M200.5 233.5h0M261.5 276.5h0M214.5 180.5h0M96.5 103.5h0M150.5 145.5h0M212.5 191.5h0M264.5 268.5h0M219.5 224.5h0M180.5 227.5h0M119.5 150.5h0M244.5 229.5h0M86.5 78.5h0M204.5 173.5h0M178.5 236.5h0M127.5 137.5h0M288.5 314.5h0M191.5 175.5h0M228.5 214.5h0M230.5 226.5h0M166.5 159.5h0M177.5 210.5h0M139.5 132.5h0M183.5 187.5h0M273.5 215.5h0M163.5 137.5h0M186.5 181.5h0M142.5 157.5h0M267.5 281.5h0M292.5 283.5h0M250.5 230.5h0M231.5 224.5h0M128.5 175.5h0M208.5 237.5h0M279.5 274.5h0M284.5 282.5h0M288.5 291.5h0M164.5 134.5h0M110.5 122.5h0M189.5 162.5h0M218.5 202.5h0M167.5 179.5h0M174.5 187.5h0M108.5 116.5h0M153.5 117.5h0M97.5 82.5h0M210.5 238.5h0M248.5 281.5h0M146.5 133.5h0M183.5 163.5h0M224.5 184.5h0M282.5 285.5h0M222.5 205.5h0M157.5 146.5h0M107.5 87.5h0M194.5 250.5h0M155.5 197.5h0M133.5 140.5h0M160.5 142.5h0M180.5 236.5h0M201.5 202.5h0M249.5 217.5h0M263.5 224.5h0M220.5 170.5h0M199.5 226.5h0M234.5 207.5h0M134.5 124.5h0M140.5 150.5h0M205.5 162.5h0M192.5 218.5h0M166.5 199.5h0M127.5 121.5h0M140.5 111.5h0M102.5 94.5h0M199.5 225.5h0M207.5 173.5h0M194.5 160.5h0M273.5 304.5h0M101.5 112.5h0M313.5 313.5h0M102.5 124.5h0M151.5 132.5h0M175.5 167.5h0M233.5 205.5h0M143.5 157.5h0M192.5 160.5h0M113.5 112.5h0M242.5 267.5h0M139.5 171.5h0M178.5 213.5h0M231.5 251.5h0M216.5 211.5h0M161.5 156.5h0M228.5 206.5h0M212.5 250.5h0M157.5 123.5h0M182.5 224.5h0M168.5 142.5h0M211.5 190.5h0M173.5 162.5h0M175.5 180.5h0M238.5 279.5h0M235.5 266.5h0M160.5 149.5h0M65.5 78.5h0M169.5 126.5h0M178.5 238.5h0M224.5 222.5h0M304.5 270.5h0M277.5 282.5h0M193.5 250.5h0M156.5 183.5h0M231.5 232.5h0M151.5 156.5h0M238.5 220.5h0M243.5 199.5h0M199.5 204.5h0M209.5 207.5h0M310.5 328.5h0M194.5 176.5h0M261.5 275.5h0M249.5 254.5h0M298.5 297.5h0M118.5 121.5h0M263.5 246.5h0M227.5 228.5h0M187.5 209.5h0M164.5 162.5h0M100.5 120.5h0M245.5 209.5h0M172.5 215.5h0M133.5 141.5h0M147.5 150.5h0M155.5 165.5h0M120.5 90.5h0M191.5 207.5h0M151.5 126.5h0M230.5 270.5h0M150.5 137.5h0M101.5 136.5h0M89.5 115.5h0M243.5 232.5h0M223.5 214.5h0M210.5 234.5h0M200.5 232.5h0M155.5 161.5h0M313.5 305.5h0M274.5 289.5h0M122.5 116.5h0M286.5 307.5h0M245.5 234.5h0M158.5 174.5h0M60.5 93.5h0M274.5 252.5h0M159.5 154.5h0M260.5 260.5h0M240.5 257.5h0M190.5 185.5h0M266.5 242.5h0M262.5 246.5h0M210.5 257.5h0M128.5 100.5h0M227.5 226.5h0M104.5 160.5h0M172.5 146.5h0M189.5 225.5h0M172.5 194.5h0M244.5 203.5h0M203.5 199.5h0M199.5 231.5h0M217.5 247.5h0M163.5 135.5h0M259.5 241.5h0M177.5 227.5h0M74.5 78.5h0M129.5 138.5h0M177.5 158.5h0M235.5 255.5h0M65.5 68.5h0M64.5 74.5h0M189.5 194.5h0M179.5 152.5h0M244.5 225.5h0M266.5 262.5h0M238.5 266.5h0M307.5 295.5h0M73.5 106.5h0M149.5 188.5h0M221.5 189.5h0M270.5 244.5h0M225.5 223.5h0M273.5 261.5h0M181.5 236.5h0M199.5 237.5h0M216.5 238.5h0M275.5 282.5h0M286.5 290.5h0M224.5 243.5h0M253.5 281.5h0M248.5 255.5h0M156.5 150.5h0M149.5 122.5h0M245.5 230.5h0M161.5 165.5h0M212.5 195.5h0M157.5 151.5h0M238.5 224.5h0M236.5 178.5h0M198.5 235.5h0M141.5 155.5h0M270.5 283.5h0M166.5 171.5h0M164.5 158.5h0M139.5 93.5h0M222.5 192.5h0M223.5 215.5h0M149.5 154.5h0M263.5 239.5h0M204.5 239.5h0M249.5 227.5h0M290.5 310.5h0M176.5 162.5h0M108.5 104.5h0M171.5 132.5h0M214.5 216.5h0M270.5 263.5h0M247.5 220.5h0M292.5 295.5h0M219.5 237.5h0M111.5 96.5h0M210.5 240.5h0M229.5 183.5h0M138.5 123.5h0M197.5 169.5h0M173.5 209.5h0M260.5 240.5h0M212.5 254.5h0M155.5 156.5h0M251.5 257.5h0M145.5 119.5h0M156.5 145.5h0M212.5 203.5h0M251.5 259.5h0M225.5 210.5h0M208.5 210.5h0M270.5 291.5h0M82.5 112.5h0M125.5 123.5h0M247.5 242.5h0M122.5 132.5h0M236.5 206.5h0M160.5 177.5h0M159.5 156.5h0M142.5 162.5h0M174.5 163.5h0M209.5 260.5h0M212.5 224.5h0M142.5 121.5h0M128.5 160.5h0M219.5 215.5h0M242.5 269.5h0M183.5 208.5h0M162.5 146.5h0M181.5 197.5h0M206.5 176.5h0M237.5 220.5h0M243.5 214.5h0M142.5 158.5h0M288.5 234.5h0M293.5 284.5h0M282.5 292.5h0M217.5 251.5h0M207.5 203.5h0M184.5 216.5h0M287.5 293.5h0M172.5 151.5h0M283.5 249.5h0M196.5 161.5h0M198.5 230.5h0M235.5 206.5h0M257.5 275.5h0M186.5 210.5h0M227.5 244.5h0M199.5 169.5h0M122.5 94.5h0M180.5 232.5h0M250.5 247.5h0M160.5 154.5h0M228.5 243.5h0M223.5 221.5h0M254.5 234.5h0M178.5 192.5h0M314.5 331.5h0M212.5 189.5h0M192.5 209.5h0M134.5 157.5h0M148.5 173.5h0M247.5 275.5h0M322.5 325.5h0M235.5 212.5h0M164.5 181.5h0M237.5 199.5h0M233.5 256.5h0M172.5 223.5h0M168.5 169.5h0M214.5 192.5h0M309.5 283.5h0M178.5 197.5h0M147.5 113.5h0M169.5 179.5h0M207.5 239.5h0M241.5 288.5h0M233.5 244.5h0M217.5 230.5h0M177.5 203.5h0M110.5 115.5h0M291.5 258.5h0M226.5 187.5h0M226.5 202.5h0M168.5 170.5h0M298.5 262.5h0M210.5 217.5h0M89.5 118.5h0M239.5 209.5h0M253.5 225.5h0M199.5 189.5h0M238.5 273.5h0M103.5 135.5h0M76.5 106.5h0M291.5 299.5h0M136.5 94.5h0M236.5 227.5h0M178.5 158.5h0M250.5 266.5h0M110.5 96.5h0M302.5 321.5h0M255.5 234.5h0M183.5 167.5h0M263.5 244.5h0M126.5 179.5h0M138.5 200.5h0M108.5 165.5h0M128.5 113.5h0M128.5 116.5h0M142.5 143.5h0M214.5 226.5h0M173.5 207.5h0M115.5 139.5h0M266.5 284.5h0M281.5 240.5h0M142.5 151.5h0M201.5 210.5h0M264.5 266.5h0M128.5 101.5h0M179.5 183.5h0M115.5 100.5h0M101.5 141.5h0M214.5 206.5h0M126.5 168.5h0M225.5 225.5h0M217.5 223.5h0M214.5 258.5h0M161.5 208.5h0M218.5 238.5h0M142.5 168.5h0M208.5 238.5h0M280.5 242.5h0M100.5 111.5h0M169.5 200.5h0M232.5 239.5h0M293.5 255.5h0M172.5 148.5h0M242.5 232.5h0M316.5 319.5h0M200.5 243.5h0M304.5 276.5h0M109.5 152.5h0M248.5 242.5h0M286.5 271.5h0M219.5 212.5h0M173.5 204.5h0M205.5 153.5h0M147.5 149.5h0M204.5 199.5h0M219.5 171.5h0M168.5 187.5h0M193.5 224.5h0M173.5 116.5h0M216.5 253.5h0M190.5 190.5h0M211.5 215.5h0M215.5 165.5h0M182.5 179.5h0M187.5 189.5h0M168.5 171.5h0M137.5 178.5h0M200.5 202.5h0M141.5 175.5h0M270.5 262.5h0M177.5 164.5h0M185.5 221.5h0M188.5 218.5h0M107.5 116.5h0M294.5 281.5h0M267.5 231.5h0M223.5 192.5h0M188.5 176.5h0M263.5 283.5h0M224.5 247.5h0M178.5 182.5h0M203.5 230.5h0M282.5 300.5h0M197.5 209.5h0M135.5 140.5h0M285.5 240.5h0M281.5 272.5h0M262.5 247.5h0M257.5 252.5h0M201.5 220.5h0M265.5 281.5h0M176.5 194.5h0M157.5 116.5h0M227.5 189.5h0M145.5 167.5h0M159.5 183.5h0M196.5 190.5h0M220.5 252.5h0M236.5 257.5h0M167.5 161.5h0M117.5 154.5h0M268.5 206.5h0M288.5 244.5h0M87.5 107.5h0M246.5 223.5h0M186.5 217.5h0M214.5 243.5h0M192.5 182.5h0M197.5 188.5h0M101.5 128.5h0M209.5 195.5h0M129.5 152.5h0M281.5 265.5h0M195.5 209.5h0M111.5 135.5h0M281.5 308.5h0M126.5 148.5h0M132.5 154.5h0M182.5 190.5h0M264.5 250.5h0M145.5 155.5h0M184.5 173.5h0M177.5 208.5h0M213.5 196.5h0M214.5 210.5h0M201.5 185.5h0M282.5 301.5h0M203.5 186.5h0M264.5 262.5h0M272.5 272.5h0M199.5 185.5h0M110.5 98.5h0M169.5 209.5h0M221.5 200.5h0M180.5 182.5h0M109.5 155.5h0M196.5 173.5h0M144.5 180.5h0M196.5 186.5h0M174.5 184.5h0M173.5 168.5h0M161.5 151.5h0M146.5 185.5h0M163.5 207.5h0M152.5 146.5h0M241.5 191.5h0M241.5 230.5h0M161.5 173.5h0M168.5 182.5h0M241.5 239.5h0M155.5 99.5h0M187.5 204.5h0M240.5 266.5h0M184.5 187.5h0M237.5 205.5h0M117.5 115.5h0M209.5 191.5h0M80.5 121.5h0M240.5 235.5h0M273.5 258.5h0M230.5 247.5h0M198.5 165.5h0M161.5 172.5h0M217.5 226.5h0M286.5 252.5h0M192.5 206.5h0M238.5 251.5h0M174.5 155.5h0M199.5 198.5h0M140.5 175.5h0M165.5 149.5h0M175.5 146.5h0M146.5 177.5h0M189.5 175.5h0M134.5 134.5h0M177.5 136.5h0M299.5 297.5h0M225.5 220.5h0M217.5 193.5h0M163.5 214.5h0M294.5 297.5h0M146.5 147.5h0M198.5 191.5h0M211.5 187.5h0M260.5 215.5h0M238.5 260.5h0M110.5 118.5h0M182.5 128.5h0M176.5 182.5h0M237.5 222.5h0M285.5 278.5h0M129.5 121.5h0M189.5 230.5h0M205.5 195.5h0M265.5 272.5h0M222.5 242.5h0M167.5 198.5h0M197.5 167.5h0M123.5 113.5h0M133.5 148.5h0M223.5 180.5h0M245.5 264.5h0M304.5 308.5h0M127.5 152.5h0M201.5 217.5h0M289.5 272.5h0M285.5 293.5h0M120.5 133.5h0M116.5 120.5h0M117.5 112.5h0M146.5 109.5h0M247.5 255.5h0M224.5 204.5h0M147.5 168.5h0M102.5 131.5h0M236.5 247.5h0M125.5 124.5h0M247.5 226.5h0M220.5 232.5h0M167.5 139.5h0M290.5 270.5h0M246.5 233.5h0M240.5 217.5h0M254.5 213.5h0M68.5 86.5h0M200.5 234.5h0M183.5 204.5h0M306.5 297.5h0M209.5 227.5h0M104.5 91.5h0M195.5 164.5h0M254.5 247.5h0M235.5 223.5h0M221.5 185.5h0M306.5 276.5h0M119.5 97.5h0M177.5 173.5h0M203.5 175.5h0M235.5 216.5h0M185.5 176.5h0M90.5 126.5h0M242.5 231.5h0M300.5 253.5h0M246.5 278.5h0M125.5 133.5h0M252.5 237.5h0M204.5 240.5h0M264.5 260.5h0M203.5 190.5h0M119.5 106.5h0M305.5 281.5h0M291.5 306.5h0M227.5 199.5h0M289.5 276.5h0M150.5 157.5h0M199.5 166.5h0M144.5 123.5h0M282.5 291.5h0M227.5 179.5h0M150.5 173.5h0M335.5 334.5h0M267.5 261.5h0M292.5 333.5h0M91.5 111.5h0M264.5 226.5h0M158.5 141.5h0M304.5 273.5h0M249.5 283.5h0M255.5 277.5h0M157.5 194.5h0M200.5 164.5h0M180.5 171.5h0M262.5 254.5h0M172.5 183.5h0M175.5 219.5h0M260.5 282.5h0M224.5 277.5h0M206.5 209.5h0M240.5 297.5h0M289.5 250.5h0M270.5 267.5h0M165.5 163.5h0M234.5 205.5h0M256.5 270.5h0M102.5 95.5h0M136.5 152.5h0M202.5 161.5h0M274.5 229.5h0M216.5 197.5h0M272.5 294.5h0M207.5 171.5h0M159.5 188.5h0M199.5 186.5h0M125.5 137.5h0M257.5 249.5h0M163.5 144.5h0M170.5 146.5h0M132.5 114.5h0M222.5 187.5h0M225.5 212.5h0M192.5 184.5h0M248.5 263.5h0M105.5 119.5h0M198.5 201.5h0M199.5 170.5h0M177.5 187.5h0M192.5 228.5h0M143.5 194.5h0M178.5 222.5h0M241.5 233.5h0M274.5 247.5h0M190.5 221.5h0M115.5 175.5h0M170.5 138.5h0M168.5 131.5h0M175.5 196.5h0M159.5 176.5h0M159.5 146.5h0M194.5 203.5h0M162.5 195.5h0M135.5 156.5h0M214.5 234.5h0M178.5 217.5h0M210.5 221.5h0M193.5 158.5h0M243.5 244.5h0M168.5 203.5h0M173.5 220.5h0M215.5 232.5h0M224.5 201.5h0M180.5 143.5h0M211.5 213.5h0M104.5 145.5h0M282.5 249.5h0M77.5 74.5h0M138.5 160.5h0M131.5 170.5h0M216.5 187.5h0M223.5 211.5h0M159.5 117.5h0M273.5 244.5h0M226.5 261.5h0M105.5 84.5h0M225.5 192.5h0M107.5 96.5h0M169.5 172.5h0M121.5 143.5h0M106.5 120.5h0M247.5 200.5h0M196.5 219.5h0M154.5 146.5h0M250.5 233.5h0M181.5 165.5h0M204.5 245.5h0M208.5 180.5h0M144.5 129.5h0M228.5 203.5h0M182.5 204.5h0M230.5 193.5h0M272.5 276.5h0M230.5 258.5h0M258.5 277.5h0M289.5 295.5h0M261.5 237.5h0M156.5 214.5h0M120.5 154.5h0M231.5 196.5h0M280.5 251.5h0M207.5 177.5h0M165.5 143.5h0M240.5 200.5h0M224.5 213.5h0M214.5 162.5h0M208.5 189.5h0M146.5 195.5h0M121.5 137.5h0M255.5 252.5h0M177.5 221.5h0M190.5 135.5h0M86.5 135.5h0M127.5 163.5h0M187.5 202.5h0M303.5 308.5h0M258.5 247.5h0M213.5 185.5h0M206.5 175.5h0M232.5 225.5h0M189.5 182.5h0M156.5 159.5h0M204.5 154.5h0M173.5 131.5h0M153.5 213.5h0M263.5 252.5h0M248.5 254.5h0M183.5 171.5h0M196.5 145.5h0M203.5 178.5h0M212.5 173.5h0M117.5 125.5h0M183.5 155.5h0M153.5 160.5h0M278.5 260.5h0M168.5 194.5h0M192.5 222.5h0M183.5 198.5h0M207.5 184.5h0M218.5 247.5h0M295.5 271.5h0M255.5 275.5h0M260.5 270.5h0M202.5 208.5h0M149.5 134.5h0M234.5 220.5h0M211.5 219.5h0M275.5 277.5h0M283.5 266.5h0M243.5 241.5h0M212.5 199.5h0M281.5 289.5h0M80.5 87.5h0M214.5 159.5h0M235.5 218.5h0M226.5 248.5h0M65.5 83.5h0M309.5 310.5h0M209.5 244.5h0M101.5 110.5h0M227.5 251.5h0M127.5 171.5h0M115.5 90.5h0M236.5 213.5h0M196.5 188.5h0M155.5 154.5h0M196.5 233.5h0M108.5 142.5h0M145.5 127.5h0M204.5 236.5h0M264.5 288.5h0M59.5 57.5h0M216.5 228.5h0M252.5 255.5h0M205.5 194.5h0M199.5 195.5h0M144.5 167.5h0M299.5 281.5h0M214.5 242.5h0M175.5 210.5h0M138.5 164.5h0M169.5 221.5h0M243.5 237.5h0M161.5 152.5h0M226.5 178.5h0M239.5 226.5h0M145.5 128.5h0M172.5 196.5h0M62.5 53.5h0M238.5 271.5h0M189.5 222.5h0M180.5 162.5h0M237.5 269.5h0M220.5 233.5h0M83.5 84.5h0M205.5 241.5h0M103.5 131.5h0M123.5 124.5h0M111.5 147.5h0M232.5 262.5h0M70.5 80.5h0M117.5 74.5h0M126.5 133.5h0M195.5 196.5h0M165.5 165.5h0M208.5 187.5h0M230.5 190.5h0M248.5 269.5h0M162.5 171.5h0M326.5 317.5h0M241.5 278.5h0M251.5 272.5h0M210.5 218.5h0M249.5 298.5h0M190.5 206.5h0M129.5 111.5h0M321.5 336.5h0M159.5 138.5h0M173.5 161.5h0M186.5 200.5h0M256.5 254.5h0M164.5 124.5h0M200.5 179.5h0M127.5 144.5h0M209.5 200.5h0M242.5 271.5h0M204.5 247.5h0M181.5 174.5h0M179.5 167.5h0M119.5 113.5h0M134.5 144.5h0M118.5 116.5h0M222.5 236.5h0M232.5 184.5h0M200.5 231.5h0M132.5 157.5h0M171.5 147.5h0M169.5 206.5h0M98.5 130.5h0M290.5 244.5h0M324.5 312.5h0M202.5 157.5h0M216.5 206.5h0M139.5 165.5h0M136.5 156.5h0M185.5 222.5h0M151.5 104.5h0M154.5 166.5h0M250.5 223.5h0M119.5 93.5h0M258.5 271.5h0M239.5 205.5h0M207.5 204.5h0M256.5 273.5h0M182.5 213.5h0M125.5 125.5h0M234.5 218.5h0M255.5 235.5h0M203.5 236.5h0M139.5 157.5h0M230.5 231.5h0M292.5 278.5h0M87.5 126.5h0M312.5 327.5h0M215.5 161.5h0M214.5 213.5h0M218.5 208.5h0M151.5 137.5h0M151.5 145.5h0M258.5 236.5h0M161.5 131.5h0M297.5 282.5h0M282.5 256.5h0M191.5 158.5h0M215.5 197.5h0M206.5 171.5h0M115.5 137.5h0M314.5 293.5h0M223.5 229.5h0M278.5 298.5h0M308.5 294.5h0M172.5 187.5h0M206.5 186.5h0M153.5 126.5h0M281.5 317.5h0M76.5 98.5h0M167.5 153.5h0M213.5 224.5h0M176.5 151.5h0M187.5 168.5h0M137.5 118.5h0M222.5 228.5h0M313.5 301.5h0M137.5 129.5h0M224.5 227.5h0M169.5 131.5h0M240.5 261.5h0M132.5 162.5h0M156.5 184.5h0M213.5 222.5h0M144.5 148.5h0M114.5 134.5h0M218.5 186.5h0M252.5 270.5h0M110.5 155.5h0M172.5 168.5h0M174.5 166.5h0M180.5 213.5h0M159.5 153.5h0M242.5 248.5h0M251.5 266.5h0M116.5 108.5h0M114.5 145.5h0M176.5 161.5h0M155.5 150.5h0M234.5 272.5h0M191.5 161.5h0M185.5 190.5h0M168.5 165.5h0M266.5 244.5h0M233.5 280.5h0M93.5 83.5h0M298.5 289.5h0M98.5 105.5h0M91.5 124.5h0M154.5 182.5h0M287.5 296.5h0M240.5 264.5h0M154.5 193.5h0M109.5 109.5h0M242.5 265.5h0M248.5 196.5h0M130.5 163.5h0M165.5 190.5h0M210.5 178.5h0M145.5 187.5h0M299.5 298.5h0M201.5 203.5h0M158.5 134.5h0M85.5 114.5h0M263.5 303.5h0M210.5 254.5h0M206.5 219.5h0M153.5 139.5h0M192.5 201.5h0M207.5 197.5h0M118.5 104.5h0M234.5 236.5h0M123.5 123.5h0M213.5 238.5h0M169.5 162.5h0M239.5 259.5h0M218.5 233.5h0M232.5 252.5h0M259.5 249.5h0M157.5 145.5h0M236.5 202.5h0M151.5 160.5h0M226.5 241.5h0M166.5 203.5h0M199.5 220.5h0M157.5 164.5h0M237.5 242.5h0M301.5 299.5h0M189.5 215.5h0M191.5 195.5h0M176.5 196.5h0M173.5 181.5h0M267.5 255.5h0M259.5 304.5h0M239.5 239.5h0M316.5 330.5h0M198.5 198.5h0M175.5 155.5h0M203.5 258.5h0M256.5 235.5h0M148.5 161.5h0M99.5 135.5h0M244.5 250.5h0M119.5 102.5h0M243.5 268.5h0M192.5 196.5h0M262.5 270.5h0M219.5 200.5h0M252.5 266.5h0M230.5 187.5h0M258.5 273.5h0M276.5 228.5h0M173.5 197.5h0M229.5 230.5h0M209.5 213.5h0M304.5 299.5h0M75.5 76.5h0M164.5 187.5h0M273.5 224.5h0M186.5 201.5h0M222.5 189.5h0M151.5 184.5h0M214.5 194.5h0M270.5 214.5h0M250.5 259.5h0M100.5 140.5h0M182.5 208.5h0M171.5 142.5h0M138.5 158.5h0M263.5 211.5h0M208.5 204.5h0M267.5 287.5h0M297.5 273.5h0M328.5 333.5h0M249.5 231.5h0M277.5 276.5h0M132.5 127.5h0M269.5 289.5h0M237.5 254.5h0M131.5 162.5h0M142.5 165.5h0M134.5 117.5h0M216.5 195.5h0M219.5 194.5h0M162.5 173.5h0M232.5 206.5h0M265.5 238.5h0M157.5 179.5h0M172.5 133.5h0M227.5 254.5h0M151.5 144.5h0M276.5 231.5h0M97.5 108.5h0M215.5 199.5h0M176.5 187.5h0M190.5 170.5h0M213.5 213.5h0M203.5 166.5h0M168.5 184.5h0M226.5 243.5h0M211.5 208.5h0M134.5 149.5h0M342.5 339.5h0M220.5 204.5h0M137.5 138.5h0M255.5 309.5h0M217.5 232.5h0M113.5 110.5h0M231.5 245.5h0M226.5 220.5h0M62.5 63.5h0M166.5 206.5h0M288.5 273.5h0M143.5 166.5h0M83.5 91.5h0M111.5 116.5h0M169.5 219.5h0M213.5 211.5h0M258.5 221.5h0M193.5 159.5h0M178.5 194.5h0M214.5 245.5h0M262.5 242.5h0M193.5 190.5h0M147.5 169.5h0M142.5 166.5h0M225.5 251.5h0M177.5 233.5h0M134.5 98.5h0M224.5 206.5h0M225.5 196.5h0M252.5 268.5h0M293.5 317.5h0M225.5 278.5h0M191.5 232.5h0M227.5 221.5h0M259.5 256.5h0M191.5 177.5h0M124.5 127.5h0M130.5 133.5h0M245.5 240.5h0M75.5 80.5h0M309.5 279.5h0M173.5 214.5h0M258.5 267.5h0M159.5 172.5h0M164.5 216.5h0M237.5 267.5h0M280.5 258.5h0M269.5 229.5h0M91.5 116.5h0M139.5 107.5h0M255.5 201.5h0M118.5 119.5h0M190.5 236.5h0M148.5 164.5h0M82.5 120.5h0M292.5 291.5h0M159.5 157.5h0M182.5 183.5h0M198.5 176.5h0M164.5 164.5h0M194.5 161.5h0M233.5 222.5h0M254.5 259.5h0M233.5 230.5h0M117.5 121.5h0M233.5 248.5h0M227.5 208.5h0M271.5 287.5h0M215.5 231.5h0M83.5 78.5h0M190.5 172.5h0M104.5 113.5h0M215.5 201.5h0M160.5 151.5h0M220.5 269.5h0M186.5 204.5h0M256.5 277.5h0M164.5 112.5h0M222.5 215.5h0M232.5 240.5h0M158.5 202.5h0M187.5 172.5h0M291.5 279.5h0M129.5 158.5h0M225.5 236.5h0M252.5 234.5h0M162.5 126.5h0M143.5 137.5h0M159.5 137.5h0M234.5 223.5h0M220.5 188.5h0M108.5 152.5h0M126.5 112.5h0M102.5 115.5h0M237.5 176.5h0M281.5 264.5h0M260.5 245.5h0M286.5 286.5h0M265.5 216.5h0M132.5 140.5h0M137.5 167.5h0M263.5 259.5h0M293.5 305.5h0M140.5 152.5h0M251.5 230.5h0M194.5 234.5h0M139.5 109.5h0M176.5 127.5h0M333.5 313.5h0M183.5 175.5h0M334.5 341.5h0M199.5 213.5h0M260.5 217.5h0M184.5 194.5h0M266.5 257.5h0M344.5 343.5h0M151.5 180.5h0M241.5 210.5h0M233.5 246.5h0M166.5 121.5h0M162.5 162.5h0M143.5 125.5h0M139.5 145.5h0M195.5 191.5h0M257.5 251.5h0M260.5 265.5h0M153.5 172.5h0M222.5 182.5h0M291.5 264.5h0M180.5 175.5h0M243.5 258.5h0M165.5 152.5h0M191.5 151.5h0M222.5 199.5h0M163.5 164.5h0M192.5 216.5h0M133.5 146.5h0M202.5 187.5h0M213.5 208.5h0M111.5 137.5h0M221.5 225.5h0M238.5 265.5h0M260.5 250.5h0M285.5 299.5h0M265.5 258.5h0M147.5 176.5h0M285.5 298.5h0M264.5 241.5h0M152.5 150.5h0M246.5 261.5h0M171.5 151.5h0M250.5 245.5h0M275.5 320.5h0M280.5 284.5h0M131.5 171.5h0M262.5 281.5h0M271.5 292.5h0M192.5 233.5h0M181.5 195.5h0M63.5 78.5h0M277.5 270.5h0M159.5 151.5h0M243.5 229.5h0M219.5 268.5h0M273.5 255.5h0M201.5 218.5h0M81.5 100.5h0M105.5 129.5h0M215.5 209.5h0M216.5 159.5h0M161.5 175.5h0M153.5 188.5h0M133.5 123.5h0M184.5 130.5h0M220.5 230.5h0M148.5 155.5h0M121.5 155.5h0M309.5 321.5h0M257.5 269.5h0M208.5 166.5h0M297.5 306.5h0M210.5 201.5h0M199.5 197.5h0M248.5 261.5h0M187.5 219.5h0M259.5 244.5h0M219.5 266.5h0M285.5 320.5h0M185.5 208.5h0M156.5 132.5h0M110.5 127.5h0M217.5 211.5h0M258.5 246.5h0M128.5 138.5h0M168.5 212.5h0M116.5 142.5h0M190.5 193.5h0M238.5 235.5h0M313.5 327.5h0M172.5 145.5h0M195.5 182.5h0M239.5 234.5h0M173.5 155.5h0M205.5 185.5h0M252.5 249.5h0M251.5 251.5h0M112.5 116.5h0M211.5 230.5h0M196.5 167.5h0M193.5 155.5h0M236.5 268.5h0M234.5 208.5h0M180.5 164.5h0M224.5 235.5h0M158.5 185.5h0M294.5 295.5h0M176.5 195.5h0M223.5 230.5h0M275.5 253.5h0M297.5 328.5h0M232.5 226.5h0M285.5 270.5h0M327.5 342.5h0M220.5 222.5h0M255.5 261.5h0M199.5 217.5h0M140.5 171.5h0M194.5 179.5h0M81.5 75.5h0M91.5 125.5h0M250.5 234.5h0M220.5 281.5h0M161.5 171.5h0M189.5 207.5h0M272.5 242.5h0M76.5 83.5h0M246.5 226.5h0M242.5 252.5h0M174.5 209.5h0M251.5 258.5h0M253.5 271.5h0M75.5 62.5h0M137.5 140.5h0M233.5 240.5h0M247.5 243.5h0M226.5 205.5h0M317.5 337.5h0M216.5 232.5h0M278.5 257.5h0M170.5 202.5h0M167.5 164.5h0M213.5 240.5h0M136.5 155.5h0M155.5 202.5h0M233.5 193.5h0M122.5 140.5h0M147.5 118.5h0M136.5 187.5h0M299.5 257.5h0M158.5 184.5h0M146.5 145.5h0M252.5 220.5h0M106.5 138.5h0M130.5 147.5h0M254.5 231.5h0M236.5 252.5h0M220.5 228.5h0M240.5 195.5h0M203.5 252.5h0M185.5 196.5h0M193.5 208.5h0M232.5 224.5h0M224.5 241.5h0M142.5 125.5h0M265.5 239.5h0M151.5 172.5h0M131.5 125.5h0M148.5 193.5h0M211.5 221.5h0M177.5 181.5h0M241.5 228.5h0M237.5 275.5h0M172.5 141.5h0M145.5 135.5h0M198.5 194.5h0M147.5 152.5h0M227.5 246.5h0M152.5 167.5h0M287.5 274.5h0M266.5 250.5h0M288.5 290.5h0M190.5 215.5h0M217.5 174.5h0M135.5 119.5h0M87.5 100.5h0M201.5 195.5h0M219.5 251.5h0M121.5 126.5h0M139.5 124.5h0M230.5 199.5h0M179.5 157.5h0M206.5 208.5h0M158.5 171.5h0M139.5 166.5h0M143.5 141.5h0M193.5 172.5h0M178.5 189.5h0M263.5 302.5h0M196.5 246.5h0M137.5 135.5h0M193.5 232.5h0M186.5 214.5h0M224.5 226.5h0M279.5 321.5h0M158.5 140.5h0M322.5 280.5h0M251.5 207.5h0M194.5 214.5h0M293.5 265.5h0M231.5 263.5h0M204.5 228.5h0M187.5 152.5h0M213.5 225.5h0M247.5 285.5h0M217.5 210.5h0M201.5 219.5h0M192.5 205.5h0M229.5 241.5h0M150.5 133.5h0M306.5 281.5h0M138.5 132.5h0M122.5 130.5h0M218.5 219.5h0M197.5 170.5h0M189.5 167.5h0M126.5 137.5h0M169.5 204.5h0M116.5 132.5h0M258.5 255.5h0M109.5 156.5h0M298.5 300.5h0M242.5 275.5h0M255.5 260.5h0M262.5 266.5h0M74.5 108.5h0M193.5 147.5h0M296.5 317.5h0M204.5 248.5h0M135.5 112.5h0M203.5 251.5h0M142.5 132.5h0M131.5 118.5h0M234.5 209.5h0M237.5 234.5h0M161.5 181.5h0M187.5 180.5h0M119.5 112.5h0M150.5 150.5h0M296.5 287.5h0M245.5 229.5h0M195.5 190.5h0M154.5 163.5h0M196.5 193.5h0M219.5 209.5h0M123.5 163.5h0M222.5 200.5h0M147.5 200.5h0M141.5 116.5h0M272.5 240.5h0M257.5 274.5h0M170.5 148.5h0M191.5 160.5h0M190.5 140.5h0M144.5 153.5h0M204.5 184.5h0M195.5 143.5h0M269.5 276.5h0M162.5 149.5h0M176.5 193.5h0M233.5 174.5h0M229.5 243.5h0M175.5 168.5h0M243.5 230.5h0M147.5 180.5h0M243.5 224.5h0M284.5 229.5h0M241.5 243.5h0M292.5 255.5h0M183.5 178.5h0M133.5 102.5h0M294.5 308.5h0M288.5 295.5h0M228.5 225.5h0M91.5 82.5h0M264.5 204.5h0M236.5 266.5h0M304.5 302.5h0M257.5 238.5h0M303.5 321.5h0M179.5 225.5h0M217.5 233.5h0M242.5 247.5h0M139.5 172.5h0M220.5 166.5h0M151.5 135.5h0M214.5 168.5h0M300.5 244.5h0M175.5 169.5h0M187.5 196.5h0M312.5 293.5h0M125.5 178.5h0M100.5 123.5h0M229.5 240.5h0M253.5 238.5h0M206.5 216.5h0M228.5 209.5h0M175.5 157.5h0M115.5 84.5h0M121.5 167.5h0M254.5 273.5h0M126.5 174.5h0M261.5 248.5h0M61.5 98.5h0M159.5 164.5h0M175.5 173.5h0M194.5 220.5h0M148.5 149.5h0M216.5 208.5h0M196.5 182.5h0M220.5 175.5h0M238.5 269.5h0M165.5 133.5h0M113.5 109.5h0M104.5 114.5h0M96.5 98.5h0M235.5 256.5h0M263.5 286.5h0M152.5 160.5h0M119.5 143.5h0M163.5 176.5h0M220.5 238.5h0M200.5 230.5h0M255.5 256.5h0M193.5 199.5h0M112.5 159.5h0M177.5 199.5h0M240.5 216.5h0M175.5 205.5h0M215.5 210.5h0M258.5 240.5h0M180.5 207.5h0M182.5 174.5h0M268.5 271.5h0M210.5 192.5h0M148.5 130.5h0M223.5 243.5h0M162.5 206.5h0M121.5 165.5h0M124.5 162.5h0M212.5 178.5h0M178.5 205.5h0M120.5 150.5h0M182.5 176.5h0M236.5 242.5h0M210.5 210.5h0M108.5 109.5h0M224.5 267.5h0M186.5 189.5h0M282.5 269.5h0M254.5 238.5h0M255.5 268.5h0M229.5 233.5h0M194.5 152.5h0M259.5 281.5h0M241.5 214.5h0M273.5 270.5h0M240.5 219.5h0M139.5 149.5h0M128.5 164.5h0M200.5 222.5h0M154.5 190.5h0M125.5 146.5h0M215.5 172.5h0M104.5 116.5h0M285.5 279.5h0M154.5 160.5h0M266.5 296.5h0M147.5 108.5h0M84.5 96.5h0M203.5 174.5h0M195.5 183.5h0M261.5 269.5h0M218.5 217.5h0M219.5 187.5h0M220.5 205.5h0M225.5 206.5h0M136.5 150.5h0M259.5 229.5h0M259.5 223.5h0M210.5 251.5h0M238.5 262.5h0M280.5 304.5h0M159.5 140.5h0M173.5 235.5h0M143.5 147.5h0M302.5 276.5h0M154.5 184.5h0M171.5 209.5h0M210.5 151.5h0M114.5 90.5h0M306.5 257.5h0M238.5 205.5h0M205.5 171.5h0M239.5 270.5h0M246.5 244.5h0M213.5 223.5h0M229.5 267.5h0M69.5 74.5h0M159.5 167.5h0M161.5 137.5h0M231.5 180.5h0M122.5 104.5h0M217.5 218.5h0M89.5 132.5h0M207.5 148.5h0M244.5 267.5h0M183.5 185.5h0M169.5 149.5h0M230.5 259.5h0M180.5 177.5h0M134.5 155.5h0M114.5 97.5h0M310.5 311.5h0M249.5 279.5h0M178.5 179.5h0M135.5 122.5h0M9.5 9.5h0M26.5 10.5h0M56.5 26.5h0M21.5 30.5h0M18.5 33.5h0M41.5 33.5h0M48.5 33.5h0M35.5 41.5h0M32.5 42.5h0M41.5 43.5h0M50.5 41.5h0M50.5 47.5h0M84.5 39.5h0M92.5 43.5h0M36.5 53.5h0M41.5 57.5h0M14.5 61.5h0M39.5 64.5h0M34.5 73.5h0M37.5 76.5h0M42.5 71.5h0M43.5 72.5h0M47.5 71.5h0M50.5 92.5h0M51.5 82.5h0M103.5 36.5h0M101.5 56.5h0M106.5 55.5h0M114.5 53.5h0M130.5 68.5h0M127.5 70.5h0M158.5 91.5h0M168.5 94.5h0M177.5 97.5h0M148.5 91.5h0M214.5 132.5h0M266.5 187.5h0M275.5 208.5h0M251.5 183.5h0M299.5 237.5h0M324.5 269.5h0M342.5 298.5h0M344.5 305.5h0M347.5 313.5h0M369.5 332.5h0M355.5 335.5h0M357.5 339.5h0M366.5 343.5h0M361.5 348.5h0M368.5 352.5h0M363.5 354.5h0M378.5 356.5h0M345.5 354.5h0M334.5 356.5h0M338.5 359.5h0M336.5 362.5h0M348.5 361.5h0M350.5 365.5h0M371.5 362.5h0M375.5 364.5h0M390.5 365.5h0M331.5 366.5h0M330.5 368.5h0M340.5 369.5h0M334.5 372.5h0M389.5 385.5h0M333.5 390.5h0M289.5 344.5h0M295.5 349.5h0M308.5 356.5h0M313.5 351.5h0M68.5 131.5h0M75.5 134.5h0M100.5 163.5h0M107.5 172.5h0M118.5 189.5h0M135.5 215.5h0M153.5 232.5h0M160.5 234.5h0M187.5 264.5h0M225.5 292.5h0M227.5 296.5h0M225.5 302.5h0M240.5 306.5h0M251.5 302.5h0M253.5 315.5h0M258.5 325.5h0M270.5 327.5h0M282.5 327.5h0" fill="none" stroke="#0000ff" stroke-width="3.45" stroke-linecap="round"/><polygon points="350.9,351.9 339.7,355.5 321.5,351.4 297.3,339.7 268.2,321.1 235.7,296.5 201.4,267.2 167,234.5 134.3,200.1 105,165.8 80.4,133.3 61.8,104.2 50.1,80 46,61.8 49.6,50.6 60.8,47 79,51.1 103.2,62.8 132.3,81.4 164.8,106 199.1,135.3 233.5,168 266.2,202.4 295.5,236.7 320.1,269.2 338.7,298.3 350.4,322.5 354.5,340.7" fill="none" stroke="#000" stroke-width="2.2" stroke-linejoin="round"/></svg>
</div>
</body></html>
